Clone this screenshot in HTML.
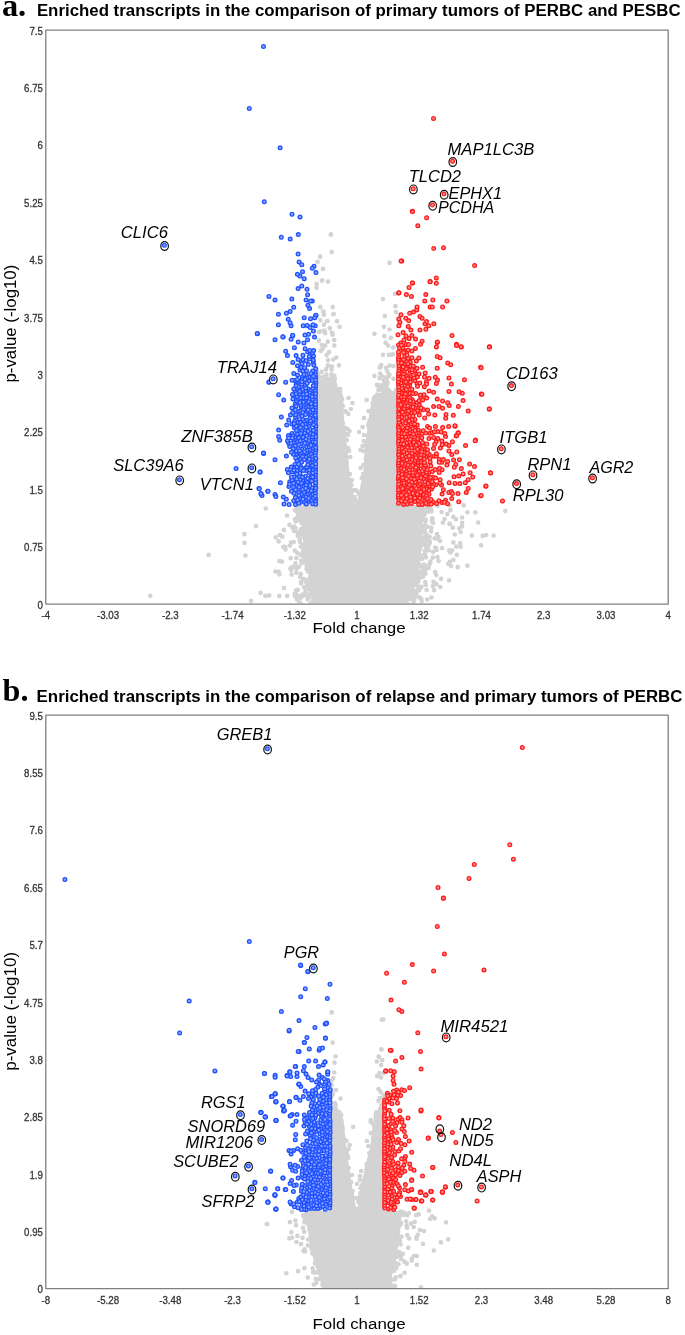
<!DOCTYPE html>
<html><head><meta charset="utf-8"><style>
html,body{margin:0;padding:0;background:#fff;}
svg{display:block;font-family:"Liberation Sans", sans-serif;will-change:transform;}
</style></head><body>
<svg width="685" height="1335" viewBox="0 0 685 1335">
<rect width="685" height="1335" fill="#fff"/>
<defs><clipPath id="clipA"><rect x="46" y="30" width="622" height="573.5"/></clipPath><clipPath id="clipB"><rect x="46" y="715" width="622" height="573.5"/></clipPath></defs>
<g clip-path="url(#clipA)">
<polygon points="313,398 343.3,398 344,420 347.5,450 349.2,470 351.8,490 354.6,500 356.2,505 356.2,505 357.6,500 359.6,490 363.6,470 364.5,450 368.5,420 372,398 400,398 400,505 424,505 422,540 419,570 405,604 405,606 312,606 312,604 308,570 303,540 300,505 313,505" fill="#d3d3d3"/>
<path d="M320.4 331.3h0M332 332.8h0M334.2 340.2h0M318.9 340.6h0M325.1 345.5h0M322.5 349h0M320.7 350.9h0M329.1 352.1h0M326.6 355.1h0M333.3 359.6h0M328 360.2h0M327.9 365.3h0M331 366.9h0M332 366.6h0M331.6 369.6h0M326.1 369.4h0M316.7 370.9h0M321.7 371.8h0M318.2 374h0M331.4 374.3h0M326.4 374.7h0M332.1 375.2h0M332.5 375h0M323.6 376.8h0M316.3 376.6h0M319.7 377.4h0M319.3 377.3h0M333.7 377.6h0M334.7 378.5h0M326 378.9h0M330.2 378.6h0M324.4 379.5h0M334.6 379.3h0M331.8 379.7h0M330 379.6h0M317 380.2h0M334.3 380.8h0M318.3 380.6h0M328.9 381.6h0M319.8 381.1h0M324.4 381.8h0M332.7 381.7h0M318.3 381.9h0M316.6 382h0M321.3 382.2h0M319.9 382.6h0M316.8 382.6h0M322.7 383.9h0M327.5 383.8h0M333.6 385h0M334.7 384.1h0M323.4 384.3h0M318.5 384.6h0M328.8 385.6h0M329.6 385.1h0M330.8 385.6h0M334.4 385.8h0M323.3 385.7h0M335.4 385.9h0M319.6 385h0M331 386.1h0M324.7 386.1h0M331.1 386.8h0M324.6 386.4h0M328.3 386.2h0M321.6 386.3h0M333.8 387.1h0M319.1 387.1h0M317.9 387.9h0M322.3 387.3h0M335.4 387.6h0M333.3 388.8h0M335.6 388.7h0M324.8 388.1h0M328.3 388.8h0M320.5 388.3h0M331.5 389.2h0M334.4 389.8h0M333.5 389.4h0M325.2 389.4h0M316.8 389.8h0M329.1 389.4h0M329.3 389.7h0M325.2 389.8h0M338.3 389.4h0M319.3 389.8h0M340.1 389.1h0M333.3 389.8h0M330.2 390.4h0M334.5 390.2h0M338.6 390.2h0M335 390.1h0M327.7 390h0M325.7 391.2h0M319.1 391h0M328.4 391.1h0M320.4 391.9h0M328 391.2h0M332.6 391.3h0M329 391.3h0M328.8 391.6h0M340 392.2h0M328.5 392.5h0M338.7 392h0M323.8 392.6h0M317.6 392.2h0M327.5 392.9h0M334.8 392.8h0M334.8 392.7h0M337 392.7h0M328.8 393.1h0M339.9 393.6h0M335.9 393.3h0M335.9 393.7h0M332 394h0M326.8 393.4h0M333.2 393.8h0M324.3 393.7h0M321.2 393.6h0M329 394.7h0M318.1 394.6h0M329.9 394.9h0M317 394.5h0M331.7 394.6h0M317.8 394.6h0M321.5 394.2h0M334.8 395.5h0M324.4 395.8h0M325.5 395.8h0M335.5 395.4h0M333.7 395h0M325.7 395.9h0M330.4 395.6h0M332.5 395.7h0M330.5 395.4h0M320.6 395.3h0M323.3 395.4h0M340.8 395.4h0M327.1 395.4h0M330.5 395.9h0M338.1 395.4h0M322.6 395.9h0M328.3 395.7h0M329.6 396.2h0M323.9 396.7h0M335.2 396.1h0M334.2 396.8h0M327.1 396.1h0M333 396.2h0M332 396.4h0M331.9 396.3h0M327.9 396.5h0M331.7 396.2h0M340 396.3h0M324 397.8h0M328.2 397.9h0M332.4 397.6h0M335.1 397.8h0M324.6 397.3h0M326.9 397.5h0M319.5 397.4h0M320.6 398.2h0M327.8 398h0M327.4 398.2h0M322.7 398.8h0M320.6 398.6h0M326.1 398.4h0M339.1 399.9h0M332.7 399h0M332.6 399.6h0M335.3 399.2h0M339.8 399.9h0M318.9 399.3h0M316.8 399.8h0M338.9 400h0M331.3 399.7h0M333 399.6h0M339.8 399.6h0M324.4 399.5h0M316.5 399.7h0M337.3 400.8h0M324.4 400.1h0M319.3 400.2h0M323.6 400.4h0M339.2 400.3h0M338.5 400.7h0M337.4 400.4h0M316.1 400.8h0M322.1 400.1h0M336 400.7h0M321.3 400.3h0M339.5 400.3h0M385.6 342.8h0M393.3 347.6h0M392.9 354.3h0M388.9 354.9h0M389.7 365.5h0M381.2 365.1h0M393.6 366.1h0M379.7 367.5h0M386 367.8h0M387.2 371h0M380.1 373.6h0M389 374.8h0M389.4 374.8h0M388.7 374.2h0M381.4 375.6h0M388.4 376.7h0M385 377.5h0M393.5 378.9h0M379.7 378.2h0M383.9 380.2h0M386.6 380.9h0M387.5 382.7h0M384 384h0M383 384.8h0M376.9 384.9h0M386.9 385.2h0M379.4 385.3h0M385.8 387.4h0M382.9 388.8h0M381.3 388.4h0M378.7 389.4h0M388.6 389.9h0M378.9 389.7h0M385.9 389.1h0M396.4 389.7h0M378.5 389.9h0M382.7 390.9h0M387.7 391.5h0M387.6 391.7h0M390.1 392h0M385.1 392.9h0M395.8 392.4h0M395.7 392.4h0M383.4 392.8h0M385.5 392.4h0M383.7 392.4h0M387.5 393.7h0M392.7 393.2h0M389 394.2h0M377.3 394.7h0M391.6 394.3h0M389 394h0M383.9 394.6h0M396.3 395.2h0M380.4 395.2h0M396.8 395.3h0M388.2 396h0M395.9 395h0M386.4 395.6h0M375.4 396.6h0M376.3 396.2h0M382.1 396.1h0M380 398h0M394.7 397.6h0M376.6 397.3h0M375.1 397.2h0M375.1 397.1h0M392.4 398.7h0M386.7 398.6h0M376.6 398.3h0M387.6 399h0M392.9 398.6h0M386.1 398h0M393.6 400h0M379.7 399.9h0M383.4 399.3h0M385.7 399h0M384.3 399.2h0M390.4 399.5h0M394 399.9h0M381.4 399.3h0M385.8 400.5h0M384 401h0M395.8 400.1h0M377.5 400.4h0M393.2 400.6h0M390.8 400.6h0M348.5 398h0M374.1 398h0M342.2 399h0M373.9 399h0M366.7 400h0M352.5 403h0M372.7 403h0M342.8 406h0M350.9 409h0M345.2 411h0M368.6 411h0M345.9 412h0M348.3 414h0M371.3 415h0M342 418h0M364.1 418h0M341.9 419h0M370.9 419h0M369.7 420h0M370.3 422h0M342.9 423h0M368.9 423h0M368.2 425h0M362.6 427h0M345.5 428h0M369.1 428h0M347.5 429h0M343.8 430h0M349.5 431h0M359.1 432h0M346.5 434h0M347.9 435h0M364 435h0M344.3 436h0M368.1 436h0M344.2 439h0M346.8 440h0M363.8 441h0M365.9 444h0M362.5 446h0M366.7 447h0M348.1 448h0M346.2 450h0M360.5 450h0M349.1 451h0M363.3 451h0M345.5 453h0M350.2 457h0M365.9 459h0M366.3 460h0M346.4 462h0M366 464h0M363.5 465h0M347 468h0M360.6 468h0M349.9 474h0M363.2 474h0M361.8 478h0M351.8 480h0M348.4 481h0M350.4 482h0M349.5 484h0M351.4 485h0M349.7 486h0M352.2 490h0M355.6 490h0M350.8 491h0M356.6 491h0M351.6 492h0M361 492h0M351.3 493h0M358.8 494h0M360.4 496h0M354.6 497h0M360 498h0M352.8 499h0M355 499h0M357.3 502h0M297.8 505.3h0M297.4 505.2h0M437.5 505.7h0M429.9 506h0M301 506.4h0M424.5 506.9h0M296.9 507.5h0M301.4 507.3h0M426.2 507.9h0M425.4 508h0M298.6 508.1h0M298.7 508.4h0M265.8 508.5h0M427.7 508.2h0M421.9 508.9h0M301.1 509.7h0M431 509.3h0M296.1 511h0M299.1 510.1h0M295 510.2h0M427.6 511.3h0M431.4 511.4h0M428.3 511.4h0M300.5 512.5h0M423.7 512.3h0M424.7 512.8h0M441.6 512h0M300.8 513.4h0M298.8 513.9h0M301.1 513.2h0M423.7 514.8h0M447.3 514.1h0M424.5 514.6h0M287 515.5h0M300.1 515.5h0M297.8 516.2h0M422.5 516.8h0M297 518.5h0M298.7 518.9h0M432.1 518.3h0M432.5 518.9h0M300.3 519.5h0M301 519.8h0M294.9 519.1h0M300.2 519.4h0M444.5 519h0M456 519.3h0M422.7 519.3h0M425.7 519.7h0M421.4 519.2h0M425 519.9h0M301.4 520.8h0M297.6 520.2h0M431.7 520.1h0M295.6 521.4h0M425.7 521.5h0M433.2 522.8h0M442.9 522.7h0M432.4 522.2h0M301.6 523.1h0M449.5 523.7h0M289.5 524.8h0M424.7 525.5h0M256 526.2h0M294.4 526.7h0M427.4 526.6h0M292.4 527.5h0M431.3 527.8h0M295.4 528.2h0M301 529.1h0M283.9 529.9h0M422.4 529.2h0M303.1 530.5h0M301.1 530.4h0M294 530.8h0M303.4 530.3h0M422.2 530.4h0M424.8 530.2h0M300 531.2h0M431.1 531.3h0M420.8 531.6h0M297.7 532.5h0M301 532.5h0M424.3 532.3h0M303.7 533.2h0M425.5 533.4h0M299.2 534.4h0M299.6 535h0M304.1 534.2h0M299 534.6h0M437 534.1h0M425.4 534.1h0M303.7 535.5h0M304.3 535.3h0M297.9 535h0M280 535.1h0M297.8 535.7h0M425.6 535.9h0M427.2 535.4h0M482.7 535.9h0M282.3 536.7h0M429.7 536.9h0M304 537.3h0M438.4 537h0M422.4 537.8h0M437.3 538.6h0M434.6 538.3h0M299.7 539.2h0M428 539.3h0M428.5 539.3h0M427 539.9h0M423.4 539.8h0M425.7 540.2h0M420.8 540.4h0M424.8 540.8h0M420.6 540.9h0M421 540.3h0M440.1 540.9h0M278.6 541.4h0M299.9 541.8h0M429.8 541.6h0M426.2 541.5h0M305.1 542.9h0M293.7 542.1h0M420.8 542.8h0M429.8 542.9h0M425.2 542.8h0M453.3 542.4h0M305.4 543.2h0M460.2 543.4h0M302.6 544.8h0M424.8 544.9h0M424.2 544.5h0M290 545.5h0M428.4 545.9h0M421.2 545.5h0M300.8 546.6h0M284.1 546.8h0M303.1 546.9h0M305.5 546.8h0M426.4 546.8h0M419.5 546.3h0M285.3 547.2h0M302.8 547.6h0M426.3 547.6h0M435.8 547.8h0M435.2 547.5h0M304.3 548.8h0M419.9 548.8h0M442 548.1h0M285.5 549.5h0M305 549.4h0M420.2 549.2h0M294.9 550.7h0M428.8 550.3h0M424.9 551h0M452.1 550.5h0M449.2 550.3h0M436.5 550h0M302.9 551.9h0M297.2 552.8h0M433.1 552.1h0M425 553.7h0M305.1 554.1h0M305.5 554.8h0M300.5 554.8h0M305.6 555.8h0M302.3 555.7h0M306.9 555.6h0M421.3 555.5h0M307.1 556h0M421.3 556.2h0M421.3 556.8h0M425.9 557.3h0M437.5 557h0M432.8 557.7h0M418.4 557.1h0M290.7 558.2h0M296.3 558.1h0M422 558.8h0M305 559.7h0M306 559.3h0M305.7 559.1h0M305.1 560.2h0M301.3 560.6h0M438.7 561h0M305.9 561.6h0M279.4 561.1h0M305.9 561h0M430.4 561.7h0M418 561.7h0M301.8 562.6h0M418.5 562.9h0M295.4 563.3h0M307.1 563.5h0M301.6 563.2h0M308.7 563.1h0M448.2 563.7h0M306.5 564.9h0M423.9 564.6h0M429.5 564.3h0M308.7 565.6h0M420.6 565.9h0M424.8 565.7h0M298.7 566.9h0M292.6 566.8h0M451 566.1h0M422.7 566.6h0M294.8 567.3h0M419.1 567.1h0M428.6 567.8h0M426.1 567.4h0M307.5 568.7h0M296.4 568.8h0M290.4 568.5h0M306.6 568.9h0M426.1 568.3h0M425.7 569.2h0M423 570.6h0M417.3 570.3h0M275.5 571.5h0M308 571.5h0M278.6 571.9h0M435.1 572h0M296.3 572.7h0M421.4 572h0M417.1 573h0M421.5 573.7h0M425.4 573.7h0M419.2 574h0M291.6 574.6h0M279.4 574.3h0M300.8 574.1h0M419.2 574.8h0M436.2 575.1h0M300.1 577h0M310.3 576.7h0M416.2 576.8h0M423.3 576.3h0M414.6 576.5h0M422.1 577.1h0M416.4 577.6h0M415.4 578h0M309.6 578.9h0M303.1 579h0M309.8 579h0M303.8 579.1h0M418.7 579.3h0M305.5 580.7h0M305.9 580.3h0M311.2 581.9h0M418.2 581.5h0M414.6 582h0M306.3 582.2h0M300.9 582.1h0M311.4 582.7h0M308.2 582.7h0M412.8 582.4h0M416.6 582.2h0M425.2 582h0M414.8 582.8h0M415.3 582.3h0M415.3 582.4h0M415.1 582.3h0M309 583.4h0M301.2 583.3h0M436.4 584.2h0M415.4 584.9h0M425.7 584.9h0M307.2 585.5h0M308.7 585.3h0M307.3 586.6h0M307.9 586.5h0M310.1 586.6h0M418.4 586.8h0M417.9 586.4h0M411.8 586.2h0M421.3 586.9h0M310.1 587.6h0M304.1 587.3h0M420.9 587.1h0M308.7 588.6h0M297.9 589.8h0M309.9 589.8h0M412.9 589.7h0M419.4 589.8h0M295.9 590.7h0M434.1 590.2h0M417.2 590.9h0M410.7 590.7h0M426.6 590h0M418.1 590.5h0M305.5 591.3h0M414.5 591.4h0M312.2 592.9h0M260.6 592.9h0M305.3 592.6h0M409.1 592.2h0M311.8 593.3h0M294.8 593.8h0M413.2 593.8h0M416.5 593.2h0M407.6 594h0M304.7 594.7h0M309 594.7h0M310 594.7h0M296.1 594.4h0M302.6 594.6h0M412.5 594.7h0M287.2 595.9h0M269.2 595.4h0M305.4 595.2h0M406.7 595.2h0M415 595.2h0M406.8 595.2h0M294.9 596.1h0M302.1 596.2h0M299.6 596.3h0M295.8 596.2h0M299.9 596.2h0M407.4 596.9h0M415.1 596.7h0M410 596.6h0M309 597.6h0M431.5 597.5h0M408.2 597.3h0M410.9 597.4h0M419.3 597.4h0M410.7 597.1h0M407.1 597.7h0M300.3 598.6h0M421.2 598.9h0M409.9 598.9h0M406.7 598.1h0M307.6 599.2h0M297.1 599.4h0M427.2 599.5h0M313.3 600.2h0M414.2 600h0M421.7 601h0M405.6 600.9h0M313.6 601.2h0M406.1 601.5h0M310.7 603h0M300.6 603.5h0M299.2 603.3h0M313.3 603h0M407.5 603.5h0M413.3 603.2h0M331.1 234.6h0M330.7 234.6h0M331.7 252.1h0M320.1 256.7h0M317.5 261.8h0M323.2 269h0M321.9 280.6h0M328.2 281.5h0M316.6 283.9h0M316.6 287.8h0M320.1 306.9h0M323.6 311.5h0M323.8 314.8h0M332.8 307.1h0M333.7 314.1h0M320.1 320h0M327.5 321.1h0M337 321.3h0M339.6 326.8h0M330 328.3h0M324.5 330.5h0M325.1 333.2h0M332.6 334.7h0M321.9 345h0M327.8 341.7h0M334.3 345.6h0M336.3 357.5h0M338.9 365.3h0M334.3 375.9h0M331.7 252.1h0M320.3 256.5h0M322.9 268.9h0M316.6 283.8h0M322.2 280.4h0M328 281.6h0M320.3 307.2h0M323.2 311.5h0M323.9 314.5h0M332.7 307.2h0M333.4 314.2h0M320.3 320.3h0M326.9 321h0M337.1 321h0M323.9 324.7h0M329.8 328h0M332.7 334.6h0M318.8 332h0M389.5 262.9h0M395 294h0M383 299h0M395.4 306.2h0M384.9 316.1h0M384 326.8h0M389.5 329.5h0M374.4 333.8h0M384.3 336.2h0M390.8 337.8h0M388.2 345.6h0M383 354.8h0M390.8 354.8h0M380.3 367.3h0M374.4 375.9h0M395.1 293.9h0M395.5 306.3h0M396 312.1h0M150.2 595.8h0M208.6 554.9h0M244.5 534.2h0M244.5 542.9h0M245.4 555.5h0M251.1 600.9h0M265.3 595.9h0M279.3 595.9h0M275.8 537.3h0M283.2 547h0M281.9 561.7h0M291.1 570.1h0M284 588h0M291.1 542.5h0M463.6 505.3h0M450.4 510.2h0M453.4 516.9h0M467.4 512.3h0M475.3 512.3h0M462.1 517.5h0M478.2 522.5h0M462.1 522.8h0M449.9 523.9h0M459.2 528.3h0M462.1 526.3h0M460.7 532.1h0M452.8 527.7h0M471.8 535.6h0M486.1 535h0M493.6 535.6h0M454.8 534.5h0M481.1 545.3h0M456.3 546.7h0M460.7 546.7h0M450.4 552.6h0M456.9 554.9h0M453.4 559.9h0M449.9 561.9h0M457.7 567.2h0M467.4 565.7h0M441.1 578.8h0M449 580.3h0M433.5 581.8h0M440.2 587h0M432.9 586.1h0M505.3 511.1h0M449.9 505.3h0M463.8 505.3h0" stroke="#d3d3d3" stroke-width="4.70" stroke-linecap="round" fill="none"/>
<g fill="#8aa4ff" stroke="#1f50ff" stroke-width="1.3"><circle cx="311.7" cy="500.2" r="1.85"/><circle cx="315.2" cy="372" r="1.85"/><circle cx="303" cy="429" r="1.85"/><circle cx="295.2" cy="481.8" r="1.85"/><circle cx="299.7" cy="413.6" r="1.85"/><circle cx="315.3" cy="477.3" r="1.85"/><circle cx="302.3" cy="377.1" r="1.85"/><circle cx="307" cy="405.3" r="1.85"/><circle cx="308.3" cy="364.6" r="1.85"/><circle cx="291.3" cy="467.1" r="1.85"/><circle cx="296.5" cy="401.4" r="1.85"/><circle cx="303.6" cy="391.9" r="1.85"/><circle cx="315.7" cy="377.4" r="1.85"/><circle cx="301.1" cy="361.4" r="1.85"/><circle cx="268.9" cy="382.3" r="1.85"/><circle cx="315.6" cy="469.2" r="1.85"/><circle cx="312.6" cy="462.8" r="1.85"/><circle cx="313.2" cy="401.6" r="1.85"/><circle cx="296.2" cy="501.9" r="1.85"/><circle cx="303" cy="440.9" r="1.85"/><circle cx="286.4" cy="456.1" r="1.85"/><circle cx="315.2" cy="490.8" r="1.85"/><circle cx="301.3" cy="407.1" r="1.85"/><circle cx="300.9" cy="404.7" r="1.85"/><circle cx="303.8" cy="480.7" r="1.85"/><circle cx="300.9" cy="491.1" r="1.85"/><circle cx="257.4" cy="333.8" r="1.85"/><circle cx="312.5" cy="494.4" r="1.85"/><circle cx="294.3" cy="440" r="1.85"/><circle cx="304" cy="407" r="1.85"/><circle cx="283.3" cy="497" r="1.85"/><circle cx="309.4" cy="413.9" r="1.85"/><circle cx="310" cy="496.2" r="1.85"/><circle cx="315.9" cy="315.4" r="1.85"/><circle cx="308.9" cy="376.7" r="1.85"/><circle cx="290.1" cy="311.5" r="1.85"/><circle cx="301.5" cy="501.3" r="1.85"/><circle cx="306.8" cy="402.4" r="1.85"/><circle cx="315.7" cy="368.7" r="1.85"/><circle cx="296.4" cy="382.9" r="1.85"/><circle cx="315.4" cy="493.5" r="1.85"/><circle cx="307.7" cy="502.2" r="1.85"/><circle cx="297.7" cy="422.5" r="1.85"/><circle cx="294" cy="451.4" r="1.85"/><circle cx="307.5" cy="424.7" r="1.85"/><circle cx="301.8" cy="286" r="1.85"/><circle cx="303.9" cy="343" r="1.85"/><circle cx="290.4" cy="414.9" r="1.85"/><circle cx="300.2" cy="458.7" r="1.85"/><circle cx="315.5" cy="412.5" r="1.85"/><circle cx="305.3" cy="384.9" r="1.85"/><circle cx="315.8" cy="382.8" r="1.85"/><circle cx="291.1" cy="325.7" r="1.85"/><circle cx="315.5" cy="388.2" r="1.85"/><circle cx="306.1" cy="360.8" r="1.85"/><circle cx="278.6" cy="394.7" r="1.85"/><circle cx="305.3" cy="400.3" r="1.85"/><circle cx="308.3" cy="407.4" r="1.85"/><circle cx="312.1" cy="488" r="1.85"/><circle cx="312.8" cy="388.2" r="1.85"/><circle cx="295.4" cy="471.9" r="1.85"/><circle cx="300" cy="479.8" r="1.85"/><circle cx="310.1" cy="468" r="1.85"/><circle cx="308.2" cy="487.7" r="1.85"/><circle cx="303.2" cy="437.2" r="1.85"/><circle cx="303.5" cy="397.9" r="1.85"/><circle cx="300.5" cy="422.5" r="1.85"/><circle cx="293.7" cy="487.5" r="1.85"/><circle cx="311.3" cy="474.6" r="1.85"/><circle cx="310.5" cy="441.6" r="1.85"/><circle cx="309.9" cy="462.7" r="1.85"/><circle cx="292.6" cy="335.6" r="1.85"/><circle cx="296.5" cy="389.5" r="1.85"/><circle cx="294.4" cy="427.8" r="1.85"/><circle cx="305.4" cy="454.9" r="1.85"/><circle cx="315.5" cy="474.6" r="1.85"/><circle cx="288.9" cy="486.4" r="1.85"/><circle cx="311.8" cy="451.6" r="1.85"/><circle cx="307.6" cy="351.8" r="1.85"/><circle cx="289.1" cy="504.4" r="1.85"/><circle cx="313.4" cy="331" r="1.85"/><circle cx="306.5" cy="370.8" r="1.85"/><circle cx="295.5" cy="417" r="1.85"/><circle cx="303.7" cy="496.8" r="1.85"/><circle cx="309" cy="426.7" r="1.85"/><circle cx="300.6" cy="400.4" r="1.85"/><circle cx="299.5" cy="476.2" r="1.85"/><circle cx="294.9" cy="437.1" r="1.85"/><circle cx="300" cy="370.1" r="1.85"/><circle cx="292" cy="214.2" r="1.85"/><circle cx="304" cy="492.3" r="1.85"/><circle cx="315.7" cy="498.9" r="1.85"/><circle cx="303.4" cy="402" r="1.85"/><circle cx="306.6" cy="377.7" r="1.85"/><circle cx="313" cy="467.8" r="1.85"/><circle cx="292.3" cy="471.7" r="1.85"/><circle cx="292.2" cy="445.1" r="1.85"/><circle cx="288.4" cy="435.6" r="1.85"/><circle cx="293.7" cy="307.2" r="1.85"/><circle cx="308.6" cy="334.2" r="1.85"/><circle cx="315.4" cy="439.5" r="1.85"/><circle cx="310" cy="477.9" r="1.85"/><circle cx="306.9" cy="412.2" r="1.85"/><circle cx="315.6" cy="480" r="1.85"/><circle cx="315.7" cy="417.9" r="1.85"/><circle cx="294.4" cy="347.8" r="1.85"/><circle cx="286.4" cy="313.3" r="1.85"/><circle cx="312.3" cy="412.6" r="1.85"/><circle cx="313.5" cy="355.9" r="1.85"/><circle cx="301.6" cy="430.7" r="1.85"/><circle cx="308.3" cy="396.7" r="1.85"/><circle cx="306.7" cy="453" r="1.85"/><circle cx="292.1" cy="433.4" r="1.85"/><circle cx="301.8" cy="449.3" r="1.85"/><circle cx="313.3" cy="470.1" r="1.85"/><circle cx="298.2" cy="448.4" r="1.85"/><circle cx="297.5" cy="365.7" r="1.85"/><circle cx="297.6" cy="374.9" r="1.85"/><circle cx="307.8" cy="461.2" r="1.85"/><circle cx="307.8" cy="494.3" r="1.85"/><circle cx="309.8" cy="398.8" r="1.85"/><circle cx="283.1" cy="337" r="1.85"/><circle cx="295.1" cy="391.4" r="1.85"/><circle cx="294.1" cy="477" r="1.85"/><circle cx="300.6" cy="466.2" r="1.85"/><circle cx="315.4" cy="399" r="1.85"/><circle cx="310.7" cy="353.8" r="1.85"/><circle cx="298.1" cy="398.4" r="1.85"/><circle cx="315.4" cy="501.6" r="1.85"/><circle cx="303.6" cy="445.2" r="1.85"/><circle cx="315.8" cy="450.3" r="1.85"/><circle cx="306.4" cy="420.2" r="1.85"/><circle cx="301.2" cy="367.5" r="1.85"/><circle cx="306.3" cy="500.1" r="1.85"/><circle cx="309.1" cy="472.6" r="1.85"/><circle cx="307.6" cy="339.8" r="1.85"/><circle cx="278.4" cy="314.2" r="1.85"/><circle cx="275" cy="459.7" r="1.85"/><circle cx="299.4" cy="484.3" r="1.85"/><circle cx="303.5" cy="484.1" r="1.85"/><circle cx="280.1" cy="147.7" r="1.85"/><circle cx="315.5" cy="434.1" r="1.85"/><circle cx="310.2" cy="411.5" r="1.85"/><circle cx="286.3" cy="499.3" r="1.85"/><circle cx="308.3" cy="389" r="1.85"/><circle cx="313.5" cy="498" r="1.85"/><circle cx="302.1" cy="363.6" r="1.85"/><circle cx="257.2" cy="333.4" r="1.85"/><circle cx="290.2" cy="239.1" r="1.85"/><circle cx="312.4" cy="380.4" r="1.85"/><circle cx="297.7" cy="441.7" r="1.85"/><circle cx="295.6" cy="489.7" r="1.85"/><circle cx="259" cy="488.5" r="1.85"/><circle cx="315.4" cy="409.8" r="1.85"/><circle cx="298.1" cy="254" r="1.85"/><circle cx="306.3" cy="397.8" r="1.85"/><circle cx="315.4" cy="466.5" r="1.85"/><circle cx="288.7" cy="443.5" r="1.85"/><circle cx="299.9" cy="402.5" r="1.85"/><circle cx="315.5" cy="401.7" r="1.85"/><circle cx="295.2" cy="404.1" r="1.85"/><circle cx="305.6" cy="476.3" r="1.85"/><circle cx="294.9" cy="464.4" r="1.85"/><circle cx="312.6" cy="371" r="1.85"/><circle cx="291.1" cy="339.2" r="1.85"/><circle cx="301.2" cy="468.5" r="1.85"/><circle cx="294.8" cy="380.4" r="1.85"/><circle cx="294.9" cy="395.9" r="1.85"/><circle cx="297.5" cy="434.1" r="1.85"/><circle cx="315.9" cy="315.2" r="1.85"/><circle cx="304.3" cy="421.6" r="1.85"/><circle cx="302.8" cy="371.1" r="1.85"/><circle cx="314" cy="266.3" r="1.85"/><circle cx="298.3" cy="426.1" r="1.85"/><circle cx="297.2" cy="485.5" r="1.85"/><circle cx="299.1" cy="487.1" r="1.85"/><circle cx="315.2" cy="496.2" r="1.85"/><circle cx="294.1" cy="493.2" r="1.85"/><circle cx="306" cy="391.3" r="1.85"/><circle cx="309.7" cy="482.7" r="1.85"/><circle cx="275" cy="299.9" r="1.85"/><circle cx="295.7" cy="414.8" r="1.85"/><circle cx="315.6" cy="385.5" r="1.85"/><circle cx="314.7" cy="317.8" r="1.85"/><circle cx="300.5" cy="397.8" r="1.85"/><circle cx="279.7" cy="440.3" r="1.85"/><circle cx="283.7" cy="400.1" r="1.85"/><circle cx="263.6" cy="453.4" r="1.85"/><circle cx="315.5" cy="436.8" r="1.85"/><circle cx="287.5" cy="440.8" r="1.85"/><circle cx="310" cy="423.1" r="1.85"/><circle cx="297.1" cy="470.4" r="1.85"/><circle cx="306.3" cy="470.6" r="1.85"/><circle cx="294.6" cy="467.8" r="1.85"/><circle cx="297.1" cy="396.4" r="1.85"/><circle cx="293.8" cy="373.4" r="1.85"/><circle cx="306.2" cy="480" r="1.85"/><circle cx="288.8" cy="437.9" r="1.85"/><circle cx="301.4" cy="494.4" r="1.85"/><circle cx="312.3" cy="439.3" r="1.85"/><circle cx="293.7" cy="500.8" r="1.85"/><circle cx="280.4" cy="482.7" r="1.85"/><circle cx="313.2" cy="441.8" r="1.85"/><circle cx="292" cy="407.9" r="1.85"/><circle cx="299.9" cy="473.3" r="1.85"/><circle cx="285.7" cy="351.3" r="1.85"/><circle cx="281.3" cy="237.3" r="1.85"/><circle cx="296.2" cy="393.8" r="1.85"/><circle cx="299.7" cy="393.7" r="1.85"/><circle cx="294" cy="470.1" r="1.85"/><circle cx="305" cy="424.3" r="1.85"/><circle cx="296.1" cy="426" r="1.85"/><circle cx="301.7" cy="387.1" r="1.85"/><circle cx="302.5" cy="271.7" r="1.85"/><circle cx="309.2" cy="455.3" r="1.85"/><circle cx="293.3" cy="448.7" r="1.85"/><circle cx="305" cy="334.9" r="1.85"/><circle cx="315.4" cy="471.9" r="1.85"/><circle cx="302.3" cy="379.4" r="1.85"/><circle cx="294.6" cy="421.3" r="1.85"/><circle cx="288.2" cy="319.3" r="1.85"/><circle cx="315.5" cy="407.1" r="1.85"/><circle cx="297.1" cy="460.5" r="1.85"/><circle cx="315.3" cy="420.6" r="1.85"/><circle cx="303.9" cy="486.7" r="1.85"/><circle cx="307.5" cy="450.3" r="1.85"/><circle cx="302.6" cy="419.3" r="1.85"/><circle cx="310" cy="449.3" r="1.85"/><circle cx="306.6" cy="446.7" r="1.85"/><circle cx="299.9" cy="276.1" r="1.85"/><circle cx="315.4" cy="453" r="1.85"/><circle cx="309.6" cy="492.3" r="1.85"/><circle cx="310.5" cy="318.8" r="1.85"/><circle cx="315.4" cy="374.7" r="1.85"/><circle cx="299.2" cy="381.8" r="1.85"/><circle cx="312.3" cy="301" r="1.85"/><circle cx="306.2" cy="374.8" r="1.85"/><circle cx="304.6" cy="367.8" r="1.85"/><circle cx="292.8" cy="335.4" r="1.85"/><circle cx="302" cy="416.3" r="1.85"/><circle cx="304.5" cy="502.3" r="1.85"/><circle cx="315.3" cy="415.2" r="1.85"/><circle cx="291.8" cy="424.1" r="1.85"/><circle cx="263.5" cy="46.5" r="1.85"/><circle cx="288.7" cy="420.1" r="1.85"/><circle cx="307" cy="289.3" r="1.85"/><circle cx="312.3" cy="459.1" r="1.85"/><circle cx="303.2" cy="325.7" r="1.85"/><circle cx="312.9" cy="409.7" r="1.85"/><circle cx="297" cy="466.8" r="1.85"/><circle cx="311.2" cy="415.9" r="1.85"/><circle cx="305.4" cy="430.5" r="1.85"/><circle cx="300" cy="216.9" r="1.85"/><circle cx="307.2" cy="442.7" r="1.85"/><circle cx="300.5" cy="454.9" r="1.85"/><circle cx="267.8" cy="491.2" r="1.85"/><circle cx="301.7" cy="462" r="1.85"/><circle cx="309.2" cy="480.5" r="1.85"/><circle cx="289.8" cy="446.4" r="1.85"/><circle cx="291.4" cy="491.2" r="1.85"/><circle cx="297.8" cy="452.8" r="1.85"/><circle cx="298.8" cy="444.6" r="1.85"/><circle cx="315.3" cy="461.1" r="1.85"/><circle cx="306.3" cy="497" r="1.85"/><circle cx="261.1" cy="493.9" r="1.85"/><circle cx="315.4" cy="485.4" r="1.85"/><circle cx="313.3" cy="362.3" r="1.85"/><circle cx="298.1" cy="359.5" r="1.85"/><circle cx="302.7" cy="389.3" r="1.85"/><circle cx="298.2" cy="384.6" r="1.85"/><circle cx="301.4" cy="483.3" r="1.85"/><circle cx="310.4" cy="435.3" r="1.85"/><circle cx="312.5" cy="436.8" r="1.85"/><circle cx="292.9" cy="435.8" r="1.85"/><circle cx="315.4" cy="423.3" r="1.85"/><circle cx="298.1" cy="288.6" r="1.85"/><circle cx="299.1" cy="261.9" r="1.85"/><circle cx="312.6" cy="477" r="1.85"/><circle cx="289.8" cy="481.7" r="1.85"/><circle cx="296.1" cy="355.6" r="1.85"/><circle cx="292.8" cy="362.4" r="1.85"/><circle cx="295.5" cy="497.4" r="1.85"/><circle cx="312.2" cy="394.4" r="1.85"/><circle cx="264.3" cy="201.7" r="1.85"/><circle cx="268" cy="491.3" r="1.85"/><circle cx="313.8" cy="365.1" r="1.85"/><circle cx="312.5" cy="352.7" r="1.85"/><circle cx="307.2" cy="325.4" r="1.85"/><circle cx="269" cy="382" r="1.85"/><circle cx="298.5" cy="386.8" r="1.85"/><circle cx="285.7" cy="382.3" r="1.85"/><circle cx="312.9" cy="434.2" r="1.85"/><circle cx="295.8" cy="454.4" r="1.85"/><circle cx="292.3" cy="438" r="1.85"/><circle cx="310.1" cy="327.6" r="1.85"/><circle cx="284" cy="504" r="1.85"/><circle cx="304.2" cy="317.8" r="1.85"/><circle cx="282.8" cy="336.8" r="1.85"/><circle cx="303.3" cy="453.6" r="1.85"/><circle cx="259.3" cy="488.7" r="1.85"/><circle cx="309.3" cy="470.1" r="1.85"/><circle cx="302.7" cy="489.4" r="1.85"/><circle cx="309.7" cy="359.1" r="1.85"/><circle cx="305.8" cy="457.1" r="1.85"/><circle cx="308.6" cy="381" r="1.85"/><circle cx="292.9" cy="398.9" r="1.85"/><circle cx="298.7" cy="492.6" r="1.85"/><circle cx="303.7" cy="394.4" r="1.85"/><circle cx="299.6" cy="391.4" r="1.85"/><circle cx="315.9" cy="272.6" r="1.85"/><circle cx="297.9" cy="456.9" r="1.85"/><circle cx="292.1" cy="380.2" r="1.85"/><circle cx="315.4" cy="444.9" r="1.85"/><circle cx="311.5" cy="406.5" r="1.85"/><circle cx="312.6" cy="399.3" r="1.85"/><circle cx="297.9" cy="481.9" r="1.85"/><circle cx="236.1" cy="468.5" r="1.85"/><circle cx="298.8" cy="437.9" r="1.85"/><circle cx="296.4" cy="450.9" r="1.85"/><circle cx="298.5" cy="464" r="1.85"/><circle cx="298.3" cy="234.6" r="1.85"/><circle cx="312.4" cy="465.6" r="1.85"/><circle cx="315.3" cy="390.9" r="1.85"/><circle cx="313.6" cy="350.6" r="1.85"/><circle cx="286.7" cy="425.1" r="1.85"/><circle cx="300.9" cy="452.6" r="1.85"/><circle cx="308.9" cy="401.7" r="1.85"/><circle cx="275" cy="494.5" r="1.85"/><circle cx="298.4" cy="411.2" r="1.85"/><circle cx="310.1" cy="418.1" r="1.85"/><circle cx="302.4" cy="477.1" r="1.85"/><circle cx="303" cy="355.2" r="1.85"/><circle cx="281.3" cy="417" r="1.85"/><circle cx="304.5" cy="381.6" r="1.85"/><circle cx="315.5" cy="442.2" r="1.85"/><circle cx="300" cy="498.4" r="1.85"/><circle cx="298.2" cy="341.9" r="1.85"/><circle cx="315.4" cy="404.4" r="1.85"/><circle cx="298.7" cy="429.3" r="1.85"/><circle cx="301.8" cy="264.8" r="1.85"/><circle cx="275" cy="339.7" r="1.85"/><circle cx="315.6" cy="431.4" r="1.85"/><circle cx="293.8" cy="389" r="1.85"/><circle cx="315.2" cy="325.7" r="1.85"/><circle cx="315.4" cy="428.7" r="1.85"/><circle cx="306.1" cy="427.2" r="1.85"/><circle cx="304.8" cy="433.3" r="1.85"/><circle cx="310.4" cy="390.7" r="1.85"/><circle cx="315.4" cy="396.3" r="1.85"/><circle cx="249.3" cy="108.5" r="1.85"/><circle cx="311.7" cy="480.9" r="1.85"/><circle cx="305.3" cy="468.1" r="1.85"/><circle cx="312.3" cy="268.2" r="1.85"/><circle cx="288.4" cy="472.7" r="1.85"/><circle cx="297.7" cy="500.2" r="1.85"/><circle cx="309.2" cy="356.4" r="1.85"/><circle cx="302.9" cy="359.6" r="1.85"/><circle cx="292.2" cy="480.1" r="1.85"/><circle cx="306.2" cy="504.1" r="1.85"/><circle cx="299.7" cy="450.7" r="1.85"/><circle cx="295.3" cy="445.6" r="1.85"/><circle cx="295.7" cy="457.9" r="1.85"/><circle cx="314.5" cy="337.1" r="1.85"/><circle cx="313.4" cy="446.2" r="1.85"/><circle cx="307.9" cy="305.3" r="1.85"/><circle cx="303.5" cy="470.6" r="1.85"/><circle cx="278.6" cy="436.5" r="1.85"/><circle cx="296.8" cy="474.1" r="1.85"/><circle cx="296.7" cy="479" r="1.85"/><circle cx="307.7" cy="478.4" r="1.85"/><circle cx="310" cy="429.5" r="1.85"/><circle cx="315.8" cy="426" r="1.85"/><circle cx="310.1" cy="433" r="1.85"/><circle cx="292.8" cy="412.5" r="1.85"/><circle cx="313" cy="419.4" r="1.85"/><circle cx="307" cy="482.7" r="1.85"/><circle cx="313.5" cy="424.7" r="1.85"/><circle cx="310.5" cy="300.9" r="1.85"/><circle cx="308.2" cy="431.2" r="1.85"/><circle cx="311" cy="373.5" r="1.85"/><circle cx="298.9" cy="495.4" r="1.85"/><circle cx="268.9" cy="296.4" r="1.85"/><circle cx="306.1" cy="299.9" r="1.85"/><circle cx="303.9" cy="374.4" r="1.85"/><circle cx="313.5" cy="376.2" r="1.85"/><circle cx="315.7" cy="488.1" r="1.85"/><circle cx="300.6" cy="427.5" r="1.85"/><circle cx="278.6" cy="430.1" r="1.85"/><circle cx="290.1" cy="322.8" r="1.85"/><circle cx="302.6" cy="424.5" r="1.85"/><circle cx="304.5" cy="451.7" r="1.85"/><circle cx="293.4" cy="442.6" r="1.85"/><circle cx="308" cy="490.3" r="1.85"/><circle cx="291.8" cy="299.1" r="1.85"/><circle cx="308.6" cy="440.4" r="1.85"/><circle cx="289.6" cy="484.1" r="1.85"/><circle cx="309.2" cy="446.8" r="1.85"/><circle cx="275.9" cy="496.6" r="1.85"/><circle cx="297.4" cy="274.3" r="1.85"/><circle cx="307.1" cy="383.3" r="1.85"/><circle cx="262" cy="495.6" r="1.85"/><circle cx="310.6" cy="421" r="1.85"/><circle cx="302.9" cy="499.3" r="1.85"/><circle cx="306" cy="439.2" r="1.85"/><circle cx="287.4" cy="355.6" r="1.85"/><circle cx="309.8" cy="350.5" r="1.85"/><circle cx="310.9" cy="445.2" r="1.85"/><circle cx="296.4" cy="430.4" r="1.85"/><circle cx="305.8" cy="408.4" r="1.85"/><circle cx="311.2" cy="454.1" r="1.85"/><circle cx="307" cy="466.7" r="1.85"/><circle cx="295.5" cy="504.6" r="1.85"/><circle cx="315.5" cy="380.1" r="1.85"/><circle cx="300.9" cy="411.2" r="1.85"/><circle cx="296" cy="385.6" r="1.85"/><circle cx="295.4" cy="410" r="1.85"/><circle cx="309.9" cy="392.9" r="1.85"/><circle cx="303.6" cy="409.7" r="1.85"/><circle cx="315.7" cy="447.6" r="1.85"/><circle cx="304.2" cy="278.8" r="1.85"/><circle cx="300.3" cy="440.8" r="1.85"/><circle cx="291.1" cy="443.2" r="1.85"/><circle cx="308" cy="464.6" r="1.85"/><circle cx="309.2" cy="459.3" r="1.85"/><circle cx="296.2" cy="406.1" r="1.85"/><circle cx="307.6" cy="294.7" r="1.85"/><circle cx="305.1" cy="348.7" r="1.85"/><circle cx="315.6" cy="482.7" r="1.85"/><circle cx="294.2" cy="423.6" r="1.85"/><circle cx="287.3" cy="469.4" r="1.85"/><circle cx="312.6" cy="503.7" r="1.85"/><circle cx="301.8" cy="381.7" r="1.85"/><circle cx="300.8" cy="433.4" r="1.85"/><circle cx="263.5" cy="453.1" r="1.85"/><circle cx="315.6" cy="463.8" r="1.85"/><circle cx="302.7" cy="456.8" r="1.85"/><circle cx="292.5" cy="394.5" r="1.85"/><circle cx="304.7" cy="443.3" r="1.85"/><circle cx="308.3" cy="409.9" r="1.85"/><circle cx="306.8" cy="435.6" r="1.85"/><circle cx="260.9" cy="493.6" r="1.85"/><circle cx="299.4" cy="418.8" r="1.85"/><circle cx="305.7" cy="388" r="1.85"/><circle cx="312.8" cy="472.9" r="1.85"/><circle cx="312.6" cy="456.5" r="1.85"/><circle cx="302.8" cy="412.5" r="1.85"/><circle cx="315.6" cy="393.6" r="1.85"/><circle cx="313.3" cy="360.1" r="1.85"/><circle cx="291.4" cy="477" r="1.85"/><circle cx="311.3" cy="403.8" r="1.85"/><circle cx="315.7" cy="504.3" r="1.85"/><circle cx="305.5" cy="414.5" r="1.85"/><circle cx="260.1" cy="472" r="1.85"/><circle cx="310.2" cy="395.4" r="1.85"/><circle cx="313.4" cy="430.4" r="1.85"/><circle cx="305.1" cy="379.4" r="1.85"/><circle cx="278.4" cy="324.7" r="1.85"/><circle cx="293.6" cy="483.3" r="1.85"/><circle cx="297.4" cy="379.4" r="1.85"/><circle cx="260.1" cy="471.9" r="1.85"/><circle cx="312.1" cy="396.7" r="1.85"/><circle cx="293.4" cy="454.3" r="1.85"/><circle cx="313.3" cy="385.6" r="1.85"/><circle cx="311.3" cy="490.8" r="1.85"/><circle cx="309.8" cy="485.5" r="1.85"/><circle cx="304.3" cy="459.6" r="1.85"/><circle cx="291.4" cy="452.2" r="1.85"/><circle cx="315.2" cy="455.7" r="1.85"/><circle cx="306.8" cy="394" r="1.85"/><circle cx="313" cy="324.7" r="1.85"/><circle cx="306.1" cy="485.1" r="1.85"/><circle cx="298.9" cy="503.2" r="1.85"/><circle cx="309.6" cy="308.6" r="1.85"/><circle cx="308.7" cy="498.3" r="1.85"/><circle cx="315.8" cy="458.4" r="1.85"/><circle cx="305.8" cy="488.3" r="1.85"/></g>
<g fill="#ff8e8e" stroke="#ff1a1a" stroke-width="1.3"><circle cx="436.2" cy="441.6" r="1.85"/><circle cx="425.8" cy="329.3" r="1.85"/><circle cx="461.3" cy="468.4" r="1.85"/><circle cx="406.8" cy="498.7" r="1.85"/><circle cx="436.3" cy="283.2" r="1.85"/><circle cx="456.7" cy="452" r="1.85"/><circle cx="425.7" cy="467.5" r="1.85"/><circle cx="403.8" cy="429.9" r="1.85"/><circle cx="430.1" cy="461.9" r="1.85"/><circle cx="406.5" cy="407.9" r="1.85"/><circle cx="405" cy="410.5" r="1.85"/><circle cx="435.7" cy="484.8" r="1.85"/><circle cx="411.9" cy="351" r="1.85"/><circle cx="411.3" cy="426.5" r="1.85"/><circle cx="398.7" cy="397.9" r="1.85"/><circle cx="398.4" cy="478.9" r="1.85"/><circle cx="409.6" cy="385" r="1.85"/><circle cx="408.2" cy="434.5" r="1.85"/><circle cx="409" cy="287.5" r="1.85"/><circle cx="401" cy="314.7" r="1.85"/><circle cx="439" cy="406.4" r="1.85"/><circle cx="430.1" cy="307" r="1.85"/><circle cx="419.9" cy="495.8" r="1.85"/><circle cx="442.1" cy="494.1" r="1.85"/><circle cx="451.7" cy="498.6" r="1.85"/><circle cx="412.5" cy="498.5" r="1.85"/><circle cx="433.6" cy="406.6" r="1.85"/><circle cx="398.6" cy="487" r="1.85"/><circle cx="414.2" cy="447.6" r="1.85"/><circle cx="412.9" cy="484.8" r="1.85"/><circle cx="430.8" cy="465.9" r="1.85"/><circle cx="398.8" cy="354.7" r="1.85"/><circle cx="433.5" cy="118.5" r="1.85"/><circle cx="411.1" cy="423.7" r="1.85"/><circle cx="441.5" cy="485" r="1.85"/><circle cx="415.7" cy="393.5" r="1.85"/><circle cx="401.3" cy="396.9" r="1.85"/><circle cx="407" cy="485" r="1.85"/><circle cx="401.7" cy="261" r="1.85"/><circle cx="407.7" cy="391.9" r="1.85"/><circle cx="398.6" cy="403.3" r="1.85"/><circle cx="404.2" cy="448" r="1.85"/><circle cx="424.7" cy="418" r="1.85"/><circle cx="448.9" cy="445.4" r="1.85"/><circle cx="400.9" cy="479.7" r="1.85"/><circle cx="429" cy="494.3" r="1.85"/><circle cx="443.5" cy="247.7" r="1.85"/><circle cx="437.8" cy="431.6" r="1.85"/><circle cx="424.3" cy="501.5" r="1.85"/><circle cx="417.9" cy="407.9" r="1.85"/><circle cx="424.1" cy="497.3" r="1.85"/><circle cx="437.2" cy="368.2" r="1.85"/><circle cx="441.9" cy="502.4" r="1.85"/><circle cx="407.3" cy="504" r="1.85"/><circle cx="439.9" cy="483" r="1.85"/><circle cx="417.8" cy="496.6" r="1.85"/><circle cx="416.5" cy="452.6" r="1.85"/><circle cx="404" cy="340" r="1.85"/><circle cx="398.8" cy="470.8" r="1.85"/><circle cx="428.2" cy="504.3" r="1.85"/><circle cx="401.1" cy="360" r="1.85"/><circle cx="420.9" cy="397.3" r="1.85"/><circle cx="400.7" cy="497.6" r="1.85"/><circle cx="405" cy="385.4" r="1.85"/><circle cx="445.5" cy="500.2" r="1.85"/><circle cx="417.4" cy="441.1" r="1.85"/><circle cx="415.2" cy="493.1" r="1.85"/><circle cx="410.2" cy="362.1" r="1.85"/><circle cx="403.1" cy="332.6" r="1.85"/><circle cx="420.5" cy="410.2" r="1.85"/><circle cx="402.9" cy="370.3" r="1.85"/><circle cx="420.2" cy="475.6" r="1.85"/><circle cx="442.6" cy="408.3" r="1.85"/><circle cx="448.8" cy="492.4" r="1.85"/><circle cx="428.9" cy="472.5" r="1.85"/><circle cx="406.7" cy="421" r="1.85"/><circle cx="470.1" cy="472.7" r="1.85"/><circle cx="448.9" cy="451" r="1.85"/><circle cx="437.2" cy="356.5" r="1.85"/><circle cx="398.5" cy="406" r="1.85"/><circle cx="398.6" cy="411.4" r="1.85"/><circle cx="414.5" cy="439.9" r="1.85"/><circle cx="412.6" cy="421.7" r="1.85"/><circle cx="458.2" cy="432.7" r="1.85"/><circle cx="456.2" cy="436" r="1.85"/><circle cx="410.6" cy="445.1" r="1.85"/><circle cx="405.8" cy="318.2" r="1.85"/><circle cx="399" cy="368.2" r="1.85"/><circle cx="462.3" cy="393.3" r="1.85"/><circle cx="400.9" cy="343.1" r="1.85"/><circle cx="425.7" cy="457.3" r="1.85"/><circle cx="401.1" cy="486.4" r="1.85"/><circle cx="436.4" cy="383.5" r="1.85"/><circle cx="403.6" cy="382.4" r="1.85"/><circle cx="408.7" cy="450" r="1.85"/><circle cx="426.6" cy="217.7" r="1.85"/><circle cx="407.1" cy="445.4" r="1.85"/><circle cx="431.4" cy="484" r="1.85"/><circle cx="406.4" cy="294.6" r="1.85"/><circle cx="428.9" cy="438.6" r="1.85"/><circle cx="426.4" cy="493.4" r="1.85"/><circle cx="411.5" cy="503.5" r="1.85"/><circle cx="465.3" cy="482.7" r="1.85"/><circle cx="440.1" cy="357.8" r="1.85"/><circle cx="398.5" cy="352" r="1.85"/><circle cx="461.3" cy="347" r="1.85"/><circle cx="410.3" cy="432.9" r="1.85"/><circle cx="419.3" cy="404.6" r="1.85"/><circle cx="418.5" cy="456.4" r="1.85"/><circle cx="437.2" cy="342.6" r="1.85"/><circle cx="423.3" cy="487.2" r="1.85"/><circle cx="481.3" cy="394" r="1.85"/><circle cx="429.1" cy="390.9" r="1.85"/><circle cx="403.8" cy="466" r="1.85"/><circle cx="407.9" cy="383.3" r="1.85"/><circle cx="423.4" cy="466.1" r="1.85"/><circle cx="399" cy="473.5" r="1.85"/><circle cx="415" cy="419.5" r="1.85"/><circle cx="407.9" cy="358.5" r="1.85"/><circle cx="418.3" cy="462.2" r="1.85"/><circle cx="407.7" cy="413.5" r="1.85"/><circle cx="401.4" cy="392.7" r="1.85"/><circle cx="427.6" cy="410" r="1.85"/><circle cx="407.1" cy="397.6" r="1.85"/><circle cx="474.5" cy="466.6" r="1.85"/><circle cx="447.6" cy="503.7" r="1.85"/><circle cx="414.4" cy="495.6" r="1.85"/><circle cx="413.4" cy="312.1" r="1.85"/><circle cx="409.8" cy="370" r="1.85"/><circle cx="429.9" cy="433.3" r="1.85"/><circle cx="415" cy="465" r="1.85"/><circle cx="415.4" cy="469.8" r="1.85"/><circle cx="408.1" cy="366.4" r="1.85"/><circle cx="442.1" cy="469.8" r="1.85"/><circle cx="455" cy="483.4" r="1.85"/><circle cx="417.2" cy="402.4" r="1.85"/><circle cx="406.7" cy="376.1" r="1.85"/><circle cx="407.9" cy="425.6" r="1.85"/><circle cx="409.8" cy="403.9" r="1.85"/><circle cx="474.6" cy="265.5" r="1.85"/><circle cx="434.8" cy="414.9" r="1.85"/><circle cx="417.4" cy="482.3" r="1.85"/><circle cx="449.2" cy="405.4" r="1.85"/><circle cx="428.6" cy="414" r="1.85"/><circle cx="398.5" cy="357.4" r="1.85"/><circle cx="414.9" cy="450.8" r="1.85"/><circle cx="416.3" cy="361.1" r="1.85"/><circle cx="423.4" cy="492.3" r="1.85"/><circle cx="406.6" cy="352" r="1.85"/><circle cx="408.5" cy="437.1" r="1.85"/><circle cx="401.4" cy="402.7" r="1.85"/><circle cx="409.9" cy="378.8" r="1.85"/><circle cx="407.7" cy="378.6" r="1.85"/><circle cx="424.7" cy="452.8" r="1.85"/><circle cx="414.1" cy="444.6" r="1.85"/><circle cx="403.3" cy="480" r="1.85"/><circle cx="417.6" cy="469" r="1.85"/><circle cx="398.9" cy="468.1" r="1.85"/><circle cx="404.1" cy="474.4" r="1.85"/><circle cx="404.8" cy="356.3" r="1.85"/><circle cx="401.1" cy="261.1" r="1.85"/><circle cx="419.2" cy="473.6" r="1.85"/><circle cx="402.9" cy="460.9" r="1.85"/><circle cx="458" cy="493.6" r="1.85"/><circle cx="425.2" cy="448.9" r="1.85"/><circle cx="399" cy="392.5" r="1.85"/><circle cx="406.4" cy="471.1" r="1.85"/><circle cx="420.5" cy="344.3" r="1.85"/><circle cx="452.4" cy="441.8" r="1.85"/><circle cx="399.9" cy="322.3" r="1.85"/><circle cx="398.8" cy="389.8" r="1.85"/><circle cx="432.8" cy="300" r="1.85"/><circle cx="413.2" cy="475.1" r="1.85"/><circle cx="398.5" cy="465.4" r="1.85"/><circle cx="427.5" cy="449.8" r="1.85"/><circle cx="404.2" cy="485.8" r="1.85"/><circle cx="403.5" cy="389.9" r="1.85"/><circle cx="405.3" cy="461.5" r="1.85"/><circle cx="434.1" cy="456.3" r="1.85"/><circle cx="405.5" cy="436.8" r="1.85"/><circle cx="417.4" cy="436" r="1.85"/><circle cx="398.9" cy="446.5" r="1.85"/><circle cx="412.3" cy="211.2" r="1.85"/><circle cx="419.9" cy="484.2" r="1.85"/><circle cx="407.3" cy="427.9" r="1.85"/><circle cx="398.5" cy="376.3" r="1.85"/><circle cx="446" cy="414.5" r="1.85"/><circle cx="441.8" cy="462.2" r="1.85"/><circle cx="447.7" cy="362.9" r="1.85"/><circle cx="409.7" cy="472.4" r="1.85"/><circle cx="433.6" cy="483.7" r="1.85"/><circle cx="440.4" cy="448.1" r="1.85"/><circle cx="465.5" cy="445.4" r="1.85"/><circle cx="400.5" cy="377.4" r="1.85"/><circle cx="404.9" cy="488.5" r="1.85"/><circle cx="419.9" cy="330.1" r="1.85"/><circle cx="401.2" cy="451.9" r="1.85"/><circle cx="415.6" cy="473.4" r="1.85"/><circle cx="413.4" cy="463.2" r="1.85"/><circle cx="441.9" cy="441.1" r="1.85"/><circle cx="398.6" cy="424.9" r="1.85"/><circle cx="459.4" cy="459.7" r="1.85"/><circle cx="418.3" cy="430.1" r="1.85"/><circle cx="442.6" cy="307" r="1.85"/><circle cx="398.6" cy="462.7" r="1.85"/><circle cx="398" cy="334.7" r="1.85"/><circle cx="429.1" cy="485.9" r="1.85"/><circle cx="475.5" cy="440" r="1.85"/><circle cx="406.1" cy="344.4" r="1.85"/><circle cx="415.6" cy="374" r="1.85"/><circle cx="442.6" cy="401" r="1.85"/><circle cx="475.2" cy="440.8" r="1.85"/><circle cx="411.9" cy="335.5" r="1.85"/><circle cx="417.3" cy="425.1" r="1.85"/><circle cx="419.4" cy="445.8" r="1.85"/><circle cx="456.6" cy="345" r="1.85"/><circle cx="426.3" cy="485.6" r="1.85"/><circle cx="424.3" cy="386.7" r="1.85"/><circle cx="420.6" cy="488.1" r="1.85"/><circle cx="426.4" cy="381.7" r="1.85"/><circle cx="443.4" cy="489.7" r="1.85"/><circle cx="455" cy="426.2" r="1.85"/><circle cx="432.4" cy="471.6" r="1.85"/><circle cx="403.6" cy="504.4" r="1.85"/><circle cx="442.2" cy="444.8" r="1.85"/><circle cx="427.9" cy="481.2" r="1.85"/><circle cx="420.5" cy="457.7" r="1.85"/><circle cx="408.6" cy="395.3" r="1.85"/><circle cx="422.1" cy="499.6" r="1.85"/><circle cx="412.1" cy="399.5" r="1.85"/><circle cx="413.3" cy="490.7" r="1.85"/><circle cx="413.6" cy="409.7" r="1.85"/><circle cx="398.8" cy="319.1" r="1.85"/><circle cx="459.1" cy="391.8" r="1.85"/><circle cx="432.2" cy="432.5" r="1.85"/><circle cx="419.5" cy="451" r="1.85"/><circle cx="430.2" cy="479.9" r="1.85"/><circle cx="451.4" cy="491.4" r="1.85"/><circle cx="403.7" cy="401.6" r="1.85"/><circle cx="403.8" cy="399.1" r="1.85"/><circle cx="455.8" cy="464.4" r="1.85"/><circle cx="404.6" cy="440.7" r="1.85"/><circle cx="408.7" cy="320.6" r="1.85"/><circle cx="417.6" cy="438.8" r="1.85"/><circle cx="459.8" cy="483.6" r="1.85"/><circle cx="402.6" cy="421.1" r="1.85"/><circle cx="417.5" cy="477.7" r="1.85"/><circle cx="433.4" cy="502.3" r="1.85"/><circle cx="413.4" cy="404.8" r="1.85"/><circle cx="407.3" cy="482.7" r="1.85"/><circle cx="418.4" cy="432.9" r="1.85"/><circle cx="410.1" cy="393.3" r="1.85"/><circle cx="446.2" cy="444.1" r="1.85"/><circle cx="437.5" cy="380.1" r="1.85"/><circle cx="419.1" cy="400.7" r="1.85"/><circle cx="403.1" cy="364.4" r="1.85"/><circle cx="411.3" cy="489.1" r="1.85"/><circle cx="454" cy="476.8" r="1.85"/><circle cx="463.1" cy="473.9" r="1.85"/><circle cx="425.4" cy="465.1" r="1.85"/><circle cx="410.4" cy="366" r="1.85"/><circle cx="430" cy="458.4" r="1.85"/><circle cx="402.1" cy="436.4" r="1.85"/><circle cx="423.1" cy="473.6" r="1.85"/><circle cx="409.6" cy="441.7" r="1.85"/><circle cx="466.3" cy="492.4" r="1.85"/><circle cx="453.3" cy="415.2" r="1.85"/><circle cx="398.7" cy="492.4" r="1.85"/><circle cx="440.1" cy="479.8" r="1.85"/><circle cx="490.5" cy="472.7" r="1.85"/><circle cx="398.5" cy="344.9" r="1.85"/><circle cx="403.1" cy="404.1" r="1.85"/><circle cx="415.3" cy="501.6" r="1.85"/><circle cx="398.5" cy="360.1" r="1.85"/><circle cx="403" cy="491.1" r="1.85"/><circle cx="419.4" cy="448" r="1.85"/><circle cx="432.2" cy="481.7" r="1.85"/><circle cx="398.4" cy="497.8" r="1.85"/><circle cx="435.3" cy="377.2" r="1.85"/><circle cx="403.4" cy="350.2" r="1.85"/><circle cx="402.2" cy="406.6" r="1.85"/><circle cx="425.2" cy="372.9" r="1.85"/><circle cx="400.9" cy="429.1" r="1.85"/><circle cx="417.7" cy="465.9" r="1.85"/><circle cx="426" cy="479.2" r="1.85"/><circle cx="422" cy="433.4" r="1.85"/><circle cx="418.8" cy="358" r="1.85"/><circle cx="406.2" cy="457.2" r="1.85"/><circle cx="406.8" cy="417.2" r="1.85"/><circle cx="404.8" cy="477.2" r="1.85"/><circle cx="415.5" cy="339.1" r="1.85"/><circle cx="417.2" cy="459.9" r="1.85"/><circle cx="398.8" cy="400.6" r="1.85"/><circle cx="430.1" cy="281.4" r="1.85"/><circle cx="407.3" cy="489.4" r="1.85"/><circle cx="403.7" cy="352.4" r="1.85"/><circle cx="417.6" cy="449.3" r="1.85"/><circle cx="403.1" cy="379.8" r="1.85"/><circle cx="410" cy="493.7" r="1.85"/><circle cx="416.7" cy="309.9" r="1.85"/><circle cx="405.3" cy="492.4" r="1.85"/><circle cx="410.4" cy="381.9" r="1.85"/><circle cx="427.7" cy="477.1" r="1.85"/><circle cx="413.9" cy="442.3" r="1.85"/><circle cx="432.9" cy="477.3" r="1.85"/><circle cx="410.9" cy="330.1" r="1.85"/><circle cx="401.5" cy="468.5" r="1.85"/><circle cx="448.9" cy="391.4" r="1.85"/><circle cx="399" cy="365.5" r="1.85"/><circle cx="428.1" cy="483.5" r="1.85"/><circle cx="403.1" cy="498.8" r="1.85"/><circle cx="411.6" cy="447.8" r="1.85"/><circle cx="412" cy="419.5" r="1.85"/><circle cx="429" cy="378.3" r="1.85"/><circle cx="407.7" cy="386.7" r="1.85"/><circle cx="409.7" cy="313.3" r="1.85"/><circle cx="406.3" cy="431.3" r="1.85"/><circle cx="401.8" cy="448.4" r="1.85"/><circle cx="438.9" cy="500.7" r="1.85"/><circle cx="419.3" cy="415.1" r="1.85"/><circle cx="411.9" cy="357.7" r="1.85"/><circle cx="489.3" cy="408.9" r="1.85"/><circle cx="468.2" cy="479.7" r="1.85"/><circle cx="398.8" cy="438.4" r="1.85"/><circle cx="404.5" cy="396.8" r="1.85"/><circle cx="458.4" cy="406.4" r="1.85"/><circle cx="416.8" cy="484.4" r="1.85"/><circle cx="425.5" cy="476.1" r="1.85"/><circle cx="415.2" cy="427.9" r="1.85"/><circle cx="410.8" cy="478.6" r="1.85"/><circle cx="415.4" cy="408.1" r="1.85"/><circle cx="468.2" cy="488.5" r="1.85"/><circle cx="398.7" cy="293.1" r="1.85"/><circle cx="421.6" cy="462.5" r="1.85"/><circle cx="408.5" cy="344.5" r="1.85"/><circle cx="451.4" cy="384.1" r="1.85"/><circle cx="424.3" cy="459.1" r="1.85"/><circle cx="406.4" cy="474.5" r="1.85"/><circle cx="426.5" cy="384" r="1.85"/><circle cx="423.6" cy="479.2" r="1.85"/><circle cx="402.9" cy="347.8" r="1.85"/><circle cx="485.8" cy="486.2" r="1.85"/><circle cx="425.8" cy="294.6" r="1.85"/><circle cx="406.2" cy="368.6" r="1.85"/><circle cx="398.6" cy="384.4" r="1.85"/><circle cx="402.2" cy="471.7" r="1.85"/><circle cx="401.1" cy="483.2" r="1.85"/><circle cx="398.5" cy="476.2" r="1.85"/><circle cx="408.9" cy="481" r="1.85"/><circle cx="502.5" cy="500.9" r="1.85"/><circle cx="414.8" cy="498" r="1.85"/><circle cx="398.6" cy="443.8" r="1.85"/><circle cx="480.6" cy="367.3" r="1.85"/><circle cx="431.2" cy="504.1" r="1.85"/><circle cx="419.4" cy="471.3" r="1.85"/><circle cx="427.5" cy="426.4" r="1.85"/><circle cx="417.1" cy="384" r="1.85"/><circle cx="406.9" cy="459.9" r="1.85"/><circle cx="416.1" cy="432.7" r="1.85"/><circle cx="411.9" cy="457.4" r="1.85"/><circle cx="429.5" cy="501.1" r="1.85"/><circle cx="435.1" cy="469.6" r="1.85"/><circle cx="405.5" cy="501.5" r="1.85"/><circle cx="415.2" cy="482" r="1.85"/><circle cx="480.6" cy="495.8" r="1.85"/><circle cx="415" cy="485.9" r="1.85"/><circle cx="398.8" cy="325.7" r="1.85"/><circle cx="424.7" cy="300.9" r="1.85"/><circle cx="423.6" cy="455.2" r="1.85"/><circle cx="426.2" cy="489" r="1.85"/><circle cx="417.5" cy="410.7" r="1.85"/><circle cx="401.1" cy="372.7" r="1.85"/><circle cx="407.6" cy="467.7" r="1.85"/><circle cx="402.5" cy="477.8" r="1.85"/><circle cx="419.4" cy="481" r="1.85"/><circle cx="431" cy="499.4" r="1.85"/><circle cx="421.1" cy="465.6" r="1.85"/><circle cx="422.7" cy="399.9" r="1.85"/><circle cx="441.2" cy="432" r="1.85"/><circle cx="435.6" cy="478.1" r="1.85"/><circle cx="423.8" cy="494.6" r="1.85"/><circle cx="401.9" cy="388.3" r="1.85"/><circle cx="406.5" cy="442.9" r="1.85"/><circle cx="398.9" cy="449.2" r="1.85"/><circle cx="398.9" cy="481.6" r="1.85"/><circle cx="431.6" cy="489" r="1.85"/><circle cx="399" cy="500.5" r="1.85"/><circle cx="404.4" cy="372" r="1.85"/><circle cx="425.7" cy="433.1" r="1.85"/><circle cx="424.5" cy="377" r="1.85"/><circle cx="404.2" cy="414.3" r="1.85"/><circle cx="400.9" cy="380" r="1.85"/><circle cx="415.5" cy="455.6" r="1.85"/><circle cx="403.2" cy="366.9" r="1.85"/><circle cx="414.8" cy="460.6" r="1.85"/><circle cx="414.4" cy="437.1" r="1.85"/><circle cx="410.7" cy="429.8" r="1.85"/><circle cx="436.3" cy="277.9" r="1.85"/><circle cx="481.9" cy="394.3" r="1.85"/><circle cx="408.9" cy="491.6" r="1.85"/><circle cx="413.1" cy="401.7" r="1.85"/><circle cx="410.8" cy="461.7" r="1.85"/><circle cx="410.8" cy="407.2" r="1.85"/><circle cx="418.3" cy="486.5" r="1.85"/><circle cx="399" cy="457.3" r="1.85"/><circle cx="434.6" cy="444.2" r="1.85"/><circle cx="439.3" cy="459.4" r="1.85"/><circle cx="401.6" cy="417.1" r="1.85"/><circle cx="406.4" cy="402.6" r="1.85"/><circle cx="414.8" cy="380.6" r="1.85"/><circle cx="400.8" cy="425.3" r="1.85"/><circle cx="432.3" cy="307" r="1.85"/><circle cx="426.7" cy="398.1" r="1.85"/><circle cx="437.2" cy="399.1" r="1.85"/><circle cx="412.5" cy="283" r="1.85"/><circle cx="419" cy="373.9" r="1.85"/><circle cx="429.4" cy="454.4" r="1.85"/><circle cx="425.9" cy="503.4" r="1.85"/><circle cx="422.1" cy="449.4" r="1.85"/><circle cx="413" cy="407.2" r="1.85"/><circle cx="424.6" cy="484.1" r="1.85"/><circle cx="428.7" cy="325.7" r="1.85"/><circle cx="418.7" cy="504.4" r="1.85"/><circle cx="419" cy="443.5" r="1.85"/><circle cx="398.9" cy="422.2" r="1.85"/><circle cx="439.2" cy="472.5" r="1.85"/><circle cx="426.7" cy="472.1" r="1.85"/><circle cx="429.6" cy="428.1" r="1.85"/><circle cx="432.6" cy="486.7" r="1.85"/><circle cx="401.9" cy="474.4" r="1.85"/><circle cx="405.8" cy="382" r="1.85"/><circle cx="401.3" cy="443.4" r="1.85"/><circle cx="451.8" cy="454.6" r="1.85"/><circle cx="409.4" cy="469.6" r="1.85"/><circle cx="401" cy="383.1" r="1.85"/><circle cx="408" cy="400.3" r="1.85"/><circle cx="412.8" cy="472.6" r="1.85"/><circle cx="458.7" cy="501.8" r="1.85"/><circle cx="489.3" cy="409" r="1.85"/><circle cx="408.4" cy="476.1" r="1.85"/><circle cx="447.7" cy="402.8" r="1.85"/><circle cx="423.9" cy="489.4" r="1.85"/><circle cx="425" cy="323.8" r="1.85"/><circle cx="490.5" cy="472.9" r="1.85"/><circle cx="403.5" cy="374.1" r="1.85"/><circle cx="408.2" cy="487.1" r="1.85"/><circle cx="458.7" cy="476.1" r="1.85"/><circle cx="445.5" cy="436.6" r="1.85"/><circle cx="417" cy="307" r="1.85"/><circle cx="399" cy="292.8" r="1.85"/><circle cx="430.1" cy="281.8" r="1.85"/><circle cx="403.1" cy="458.4" r="1.85"/><circle cx="414.4" cy="479.2" r="1.85"/><circle cx="398.6" cy="416.8" r="1.85"/><circle cx="429" cy="490.6" r="1.85"/><circle cx="409" cy="338.5" r="1.85"/><circle cx="442.6" cy="427.6" r="1.85"/><circle cx="472.8" cy="477.1" r="1.85"/><circle cx="409.6" cy="374.3" r="1.85"/><circle cx="407.4" cy="447.6" r="1.85"/><circle cx="448.9" cy="378" r="1.85"/><circle cx="403.7" cy="444.2" r="1.85"/><circle cx="409.6" cy="397.6" r="1.85"/><circle cx="406.9" cy="453" r="1.85"/><circle cx="443.4" cy="459.6" r="1.85"/><circle cx="448.6" cy="426.4" r="1.85"/><circle cx="411.6" cy="437" r="1.85"/><circle cx="401.2" cy="410.4" r="1.85"/><circle cx="412.2" cy="459.6" r="1.85"/><circle cx="433.8" cy="323.8" r="1.85"/><circle cx="418.6" cy="489.1" r="1.85"/><circle cx="426.4" cy="496.1" r="1.85"/><circle cx="404.1" cy="469.5" r="1.85"/><circle cx="461" cy="346.8" r="1.85"/><circle cx="398.6" cy="435.7" r="1.85"/><circle cx="414.9" cy="370.2" r="1.85"/><circle cx="398.4" cy="427.6" r="1.85"/><circle cx="436.6" cy="503.6" r="1.85"/><circle cx="410.2" cy="400.9" r="1.85"/><circle cx="411.6" cy="413.3" r="1.85"/><circle cx="424" cy="394.8" r="1.85"/><circle cx="452.4" cy="493.4" r="1.85"/><circle cx="468.2" cy="411.1" r="1.85"/><circle cx="405.6" cy="449.9" r="1.85"/><circle cx="427.3" cy="469.6" r="1.85"/><circle cx="414.6" cy="423.9" r="1.85"/><circle cx="401.7" cy="433.4" r="1.85"/><circle cx="402.6" cy="427.4" r="1.85"/><circle cx="405.4" cy="464.2" r="1.85"/><circle cx="403.2" cy="493.4" r="1.85"/><circle cx="422.1" cy="341.3" r="1.85"/><circle cx="412.9" cy="428.7" r="1.85"/><circle cx="481.2" cy="495.5" r="1.85"/><circle cx="416.2" cy="445.3" r="1.85"/><circle cx="439.5" cy="468.2" r="1.85"/><circle cx="427.4" cy="453.2" r="1.85"/><circle cx="398.6" cy="395.2" r="1.85"/><circle cx="420.7" cy="492" r="1.85"/><circle cx="427.5" cy="498.5" r="1.85"/><circle cx="414" cy="377.7" r="1.85"/><circle cx="408.2" cy="326.4" r="1.85"/><circle cx="399" cy="408.7" r="1.85"/><circle cx="398.6" cy="433" r="1.85"/><circle cx="404.5" cy="433.8" r="1.85"/><circle cx="456.4" cy="344.2" r="1.85"/><circle cx="409.8" cy="416" r="1.85"/><circle cx="404" cy="408.5" r="1.85"/><circle cx="421" cy="477.8" r="1.85"/><circle cx="410.6" cy="500.4" r="1.85"/><circle cx="437.4" cy="342" r="1.85"/><circle cx="410.6" cy="497" r="1.85"/><circle cx="412.8" cy="393.6" r="1.85"/><circle cx="410.6" cy="410.1" r="1.85"/><circle cx="411.9" cy="389.3" r="1.85"/><circle cx="408.2" cy="465.2" r="1.85"/><circle cx="404" cy="483" r="1.85"/><circle cx="445.7" cy="418.2" r="1.85"/><circle cx="408.1" cy="350.1" r="1.85"/><circle cx="430.4" cy="477.5" r="1.85"/><circle cx="415.9" cy="467.5" r="1.85"/><circle cx="423.2" cy="430.7" r="1.85"/><circle cx="416" cy="457.8" r="1.85"/><circle cx="398.6" cy="484.3" r="1.85"/><circle cx="426.8" cy="444" r="1.85"/><circle cx="437.9" cy="438.4" r="1.85"/><circle cx="416.3" cy="488.4" r="1.85"/><circle cx="410.8" cy="466.9" r="1.85"/><circle cx="406.5" cy="478.8" r="1.85"/><circle cx="420.3" cy="395" r="1.85"/><circle cx="433.6" cy="437.4" r="1.85"/><circle cx="398.8" cy="430.3" r="1.85"/><circle cx="412.1" cy="453.4" r="1.85"/><circle cx="417.5" cy="386.2" r="1.85"/><circle cx="398.9" cy="451.9" r="1.85"/><circle cx="398.9" cy="414.1" r="1.85"/><circle cx="419.8" cy="382.9" r="1.85"/><circle cx="436.4" cy="347" r="1.85"/><circle cx="447.7" cy="461.5" r="1.85"/><circle cx="406.4" cy="495" r="1.85"/><circle cx="405.3" cy="406" r="1.85"/><circle cx="435.4" cy="426.4" r="1.85"/><circle cx="415.4" cy="348.5" r="1.85"/><circle cx="409.2" cy="455.9" r="1.85"/><circle cx="418.3" cy="500.8" r="1.85"/><circle cx="423.5" cy="409.5" r="1.85"/><circle cx="419.9" cy="316.5" r="1.85"/><circle cx="489.6" cy="346.8" r="1.85"/><circle cx="419.8" cy="498.1" r="1.85"/><circle cx="412.8" cy="431.7" r="1.85"/><circle cx="453.6" cy="460" r="1.85"/><circle cx="446.9" cy="300.9" r="1.85"/><circle cx="398.5" cy="503.2" r="1.85"/><circle cx="463" cy="400.6" r="1.85"/><circle cx="469.6" cy="464" r="1.85"/><circle cx="402.1" cy="463.4" r="1.85"/><circle cx="398.4" cy="381.7" r="1.85"/><circle cx="398.5" cy="495.1" r="1.85"/><circle cx="406" cy="336" r="1.85"/><circle cx="421.8" cy="437.7" r="1.85"/><circle cx="401.5" cy="500.8" r="1.85"/><circle cx="413.3" cy="434.2" r="1.85"/><circle cx="402.3" cy="440.3" r="1.85"/><circle cx="398.6" cy="441.1" r="1.85"/><circle cx="411.3" cy="375.8" r="1.85"/><circle cx="444.8" cy="433.4" r="1.85"/><circle cx="458.2" cy="433" r="1.85"/><circle cx="398.6" cy="454.6" r="1.85"/><circle cx="399.4" cy="347.8" r="1.85"/><circle cx="413.5" cy="374.7" r="1.85"/><circle cx="421.2" cy="454.6" r="1.85"/><circle cx="422.6" cy="367.3" r="1.85"/><circle cx="417.8" cy="225.7" r="1.85"/><circle cx="422.1" cy="318.2" r="1.85"/><circle cx="398.6" cy="379" r="1.85"/><circle cx="449.2" cy="482.7" r="1.85"/><circle cx="402.3" cy="455.9" r="1.85"/><circle cx="481.2" cy="367.7" r="1.85"/><circle cx="411.8" cy="482.3" r="1.85"/><circle cx="411.5" cy="296.5" r="1.85"/><circle cx="407" cy="355" r="1.85"/><circle cx="417.3" cy="494.3" r="1.85"/><circle cx="421" cy="407.9" r="1.85"/><circle cx="456.5" cy="435.6" r="1.85"/><circle cx="426.5" cy="321.6" r="1.85"/><circle cx="444.4" cy="502.2" r="1.85"/><circle cx="424.4" cy="462.5" r="1.85"/><circle cx="425" cy="481.8" r="1.85"/><circle cx="405.5" cy="393.9" r="1.85"/><circle cx="398.8" cy="387.1" r="1.85"/><circle cx="412.5" cy="465.4" r="1.85"/><circle cx="423.4" cy="446.2" r="1.85"/><circle cx="454.3" cy="467.3" r="1.85"/><circle cx="414.8" cy="412.5" r="1.85"/><circle cx="486" cy="486" r="1.85"/><circle cx="405.5" cy="422.9" r="1.85"/><circle cx="450.7" cy="364.8" r="1.85"/><circle cx="405.4" cy="363.7" r="1.85"/><circle cx="417.4" cy="377.1" r="1.85"/><circle cx="410.2" cy="439.2" r="1.85"/><circle cx="423.6" cy="468.4" r="1.85"/><circle cx="402.5" cy="488.5" r="1.85"/><circle cx="402.4" cy="412.3" r="1.85"/><circle cx="407.8" cy="405.8" r="1.85"/><circle cx="422.3" cy="470.8" r="1.85"/><circle cx="452" cy="335.5" r="1.85"/><circle cx="417" cy="368.3" r="1.85"/><circle cx="422.5" cy="442.4" r="1.85"/><circle cx="464.5" cy="379.7" r="1.85"/><circle cx="412.3" cy="282.9" r="1.85"/><circle cx="398.7" cy="460" r="1.85"/><circle cx="417.3" cy="475.2" r="1.85"/><circle cx="400.8" cy="404.8" r="1.85"/><circle cx="456.5" cy="345.4" r="1.85"/><circle cx="436.4" cy="456.1" r="1.85"/><circle cx="433.5" cy="448.4" r="1.85"/><circle cx="398.5" cy="489.7" r="1.85"/><circle cx="406.5" cy="361.7" r="1.85"/><circle cx="439.2" cy="462.2" r="1.85"/><circle cx="401.4" cy="345.3" r="1.85"/><circle cx="398.9" cy="370.9" r="1.85"/><circle cx="422.1" cy="504.4" r="1.85"/><circle cx="433.6" cy="392.2" r="1.85"/><circle cx="398.9" cy="419.5" r="1.85"/><circle cx="434.5" cy="431.7" r="1.85"/><circle cx="455" cy="425.8" r="1.85"/><circle cx="398.7" cy="362.8" r="1.85"/><circle cx="408" cy="363.8" r="1.85"/><circle cx="412.9" cy="416" r="1.85"/><circle cx="409.1" cy="421" r="1.85"/><circle cx="403.7" cy="451.7" r="1.85"/><circle cx="401.5" cy="362.9" r="1.85"/><circle cx="412.1" cy="369.8" r="1.85"/><circle cx="408.5" cy="411" r="1.85"/><circle cx="406.3" cy="389.5" r="1.85"/><circle cx="403.6" cy="359.6" r="1.85"/><circle cx="403.3" cy="377.2" r="1.85"/><circle cx="413.3" cy="366" r="1.85"/><circle cx="413" cy="493.2" r="1.85"/><circle cx="398.6" cy="373.6" r="1.85"/><circle cx="401.5" cy="495.3" r="1.85"/><circle cx="433.7" cy="248.5" r="1.85"/><circle cx="421.8" cy="451.8" r="1.85"/><circle cx="436.4" cy="453.8" r="1.85"/><circle cx="489.3" cy="347" r="1.85"/><circle cx="415" cy="430.4" r="1.85"/><circle cx="446.9" cy="465.1" r="1.85"/><circle cx="409.4" cy="484.9" r="1.85"/><circle cx="412.5" cy="211.6" r="1.85"/></g>
</g>
<ellipse cx="164.6" cy="246.0" rx="3.8" ry="4.4" fill="#fff" stroke="#111" stroke-width="1.2"/><circle cx="164.4" cy="245.3" r="1.85" fill="#8aa4ff" stroke="#1f50ff" stroke-width="1.3"/><ellipse cx="273.3" cy="379.4" rx="3.8" ry="4.4" fill="#fff" stroke="#111" stroke-width="1.2"/><circle cx="273.1" cy="378.7" r="1.85" fill="#8aa4ff" stroke="#1f50ff" stroke-width="1.3"/><ellipse cx="251.9" cy="447.5" rx="3.8" ry="4.4" fill="#fff" stroke="#111" stroke-width="1.2"/><circle cx="251.7" cy="446.8" r="1.85" fill="#8aa4ff" stroke="#1f50ff" stroke-width="1.3"/><ellipse cx="251.9" cy="468.4" rx="3.8" ry="4.4" fill="#fff" stroke="#111" stroke-width="1.2"/><circle cx="251.7" cy="467.7" r="1.85" fill="#8aa4ff" stroke="#1f50ff" stroke-width="1.3"/><ellipse cx="179.7" cy="480.4" rx="3.8" ry="4.4" fill="#fff" stroke="#111" stroke-width="1.2"/><circle cx="179.5" cy="479.7" r="1.85" fill="#8aa4ff" stroke="#1f50ff" stroke-width="1.3"/>
<ellipse cx="452.8" cy="162.0" rx="3.8" ry="4.4" fill="#fff" stroke="#111" stroke-width="1.2"/><circle cx="452.6" cy="161.3" r="1.85" fill="#ff8e8e" stroke="#ff1a1a" stroke-width="1.3"/><ellipse cx="413.4" cy="189.4" rx="3.8" ry="4.4" fill="#fff" stroke="#111" stroke-width="1.2"/><circle cx="413.2" cy="188.7" r="1.85" fill="#ff8e8e" stroke="#ff1a1a" stroke-width="1.3"/><ellipse cx="444.2" cy="194.7" rx="3.8" ry="4.4" fill="#fff" stroke="#111" stroke-width="1.2"/><circle cx="444.0" cy="194.0" r="1.85" fill="#ff8e8e" stroke="#ff1a1a" stroke-width="1.3"/><ellipse cx="432.7" cy="205.7" rx="3.8" ry="4.4" fill="#fff" stroke="#111" stroke-width="1.2"/><circle cx="432.5" cy="205.0" r="1.85" fill="#ff8e8e" stroke="#ff1a1a" stroke-width="1.3"/><ellipse cx="511.6" cy="386.3" rx="3.8" ry="4.4" fill="#fff" stroke="#111" stroke-width="1.2"/><circle cx="511.4" cy="385.6" r="1.85" fill="#ff8e8e" stroke="#ff1a1a" stroke-width="1.3"/><ellipse cx="501.4" cy="449.4" rx="3.8" ry="4.4" fill="#fff" stroke="#111" stroke-width="1.2"/><circle cx="501.2" cy="448.7" r="1.85" fill="#ff8e8e" stroke="#ff1a1a" stroke-width="1.3"/><ellipse cx="533.0" cy="475.4" rx="3.8" ry="4.4" fill="#fff" stroke="#111" stroke-width="1.2"/><circle cx="532.8" cy="474.7" r="1.85" fill="#ff8e8e" stroke="#ff1a1a" stroke-width="1.3"/><ellipse cx="592.6" cy="478.5" rx="3.8" ry="4.4" fill="#fff" stroke="#111" stroke-width="1.2"/><circle cx="592.4" cy="477.8" r="1.85" fill="#ff8e8e" stroke="#ff1a1a" stroke-width="1.3"/><ellipse cx="516.7" cy="484.3" rx="3.8" ry="4.4" fill="#fff" stroke="#111" stroke-width="1.2"/><circle cx="516.5" cy="483.6" r="1.85" fill="#ff8e8e" stroke="#ff1a1a" stroke-width="1.3"/>
<text x="120.8" y="237.8" font-size="16.0" font-style="italic" textLength="47.3" lengthAdjust="spacingAndGlyphs" fill="#000">CLIC6</text>
<text x="216.7" y="373.4" font-size="16.0" font-style="italic" textLength="60.4" lengthAdjust="spacingAndGlyphs" fill="#000">TRAJ14</text>
<text x="181.2" y="441.7" font-size="16.0" font-style="italic" textLength="71.6" lengthAdjust="spacingAndGlyphs" fill="#000">ZNF385B</text>
<text x="113.2" y="470.6" font-size="16.0" font-style="italic" textLength="70.5" lengthAdjust="spacingAndGlyphs" fill="#000">SLC39A6</text>
<text x="199.8" y="489.9" font-size="16.0" font-style="italic" textLength="54.0" lengthAdjust="spacingAndGlyphs" fill="#000">VTCN1</text>
<text x="447.5" y="154.8" font-size="16.0" font-style="italic" textLength="86.9" lengthAdjust="spacingAndGlyphs" fill="#000">MAP1LC3B</text>
<text x="408.7" y="181.6" font-size="16.0" font-style="italic" textLength="52.3" lengthAdjust="spacingAndGlyphs" fill="#000">TLCD2</text>
<text x="448.5" y="199.4" font-size="16.0" font-style="italic" textLength="53.5" lengthAdjust="spacingAndGlyphs" fill="#000">EPHX1</text>
<text x="437.9" y="212.7" font-size="16.0" font-style="italic" textLength="56.5" lengthAdjust="spacingAndGlyphs" fill="#000">PCDHA</text>
<text x="506.0" y="379.4" font-size="16.0" font-style="italic" textLength="51.7" lengthAdjust="spacingAndGlyphs" fill="#000">CD163</text>
<text x="499.6" y="442.5" font-size="16.0" font-style="italic" textLength="47.9" lengthAdjust="spacingAndGlyphs" fill="#000">ITGB1</text>
<text x="527.4" y="469.8" font-size="16.0" font-style="italic" textLength="44.0" lengthAdjust="spacingAndGlyphs" fill="#000">RPN1</text>
<text x="589.4" y="472.9" font-size="16.0" font-style="italic" textLength="43.9" lengthAdjust="spacingAndGlyphs" fill="#000">AGR2</text>
<text x="512.8" y="501.0" font-size="16.0" font-style="italic" textLength="50.7" lengthAdjust="spacingAndGlyphs" fill="#000">RPL30</text>
<g clip-path="url(#clipB)">
<polygon points="330,1112 341.2,1112 343.6,1120 346.6,1150 351,1180 354.5,1200 357.5,1214 357.5,1214 359,1200 362.1,1180 369.6,1150 373.5,1120 374.1,1112 385,1112 385,1211 402,1211 399.4,1240 396,1260 391,1280 389,1291 323,1291 320,1280 313.5,1260 309,1240 306,1211 330,1211" fill="#d3d3d3"/>
<path d="M331.7 1080.5h0M331.6 1085.3h0M330.5 1087.7h0M330.1 1089.2h0M331.4 1092h0M333 1094.1h0M331.4 1096.3h0M330.7 1100.7h0M335 1103.2h0M330.6 1103h0M335.8 1105.2h0M332.4 1108.7h0M330.3 1108.1h0M333.1 1108.2h0M336.2 1109.9h0M331.2 1109.6h0M331.1 1109.4h0M336.3 1109.9h0M333 1110.2h0M332.1 1111.4h0M334.6 1113.1h0M335.6 1113.2h0M383.8 1073.1h0M383.8 1095.4h0M380 1098h0M378.5 1100.8h0M384.2 1101.8h0M383 1103.4h0M383.2 1105.4h0M381.5 1105.1h0M381.4 1105.8h0M384 1106.1h0M384 1106.4h0M380.3 1108.9h0M381 1110.5h0M376.5 1112.1h0M380.4 1113h0M379.9 1114.2h0M382.5 1114.5h0M339.1 1112h0M376.1 1114h0M341.2 1115h0M375.9 1116h0M370.8 1120h0M370.7 1122h0M373.2 1124h0M353.2 1127h0M342.5 1128h0M374.7 1128h0M370.8 1133h0M373.7 1136h0M373.3 1138h0M344.1 1139h0M346.5 1141h0M366.9 1141h0M349.7 1145h0M368.4 1146h0M348.5 1149h0M346.9 1151h0M371.6 1151h0M371 1152h0M369.3 1153h0M370.1 1154h0M347.4 1155h0M347.5 1156h0M348.1 1158h0M369.1 1159h0M368 1163h0M366.8 1164h0M366.9 1166h0M348.7 1168h0M366.8 1169h0M361.2 1171h0M347.9 1174h0M352 1175h0M348.8 1176h0M360 1176h0M360 1180h0M349.1 1181h0M351.1 1182h0M357 1184h0M361.9 1185h0M360.5 1188h0M352.6 1191h0M351.8 1193h0M360.3 1193h0M351.6 1195h0M351.6 1196h0M359.7 1197h0M355.6 1198h0M357.9 1199h0M360.8 1199h0M358.7 1202h0M359.2 1203h0M360.1 1207h0M357.1 1209h0M359.2 1209h0M355 1210h0M356.1 1210h0M356.4 1211h0M357.2 1213h0M307.8 1211.1h0M306.7 1211.4h0M400.6 1211.7h0M403.9 1212.6h0M408.8 1213h0M306.3 1213.7h0M307.1 1214.2h0M303.1 1215.4h0M307.5 1215.6h0M416.1 1215.1h0M403 1215.1h0M407.3 1215.5h0M307.4 1217.1h0M304.7 1218.9h0M305.5 1218.3h0M434.6 1218.4h0M307.2 1219.9h0M406.2 1221.3h0M304.4 1222.2h0M401 1222.9h0M307.7 1223.8h0M411 1223.6h0M309.2 1225.4h0M296 1225.2h0M400 1225.1h0M406.5 1225.7h0M303 1227.8h0M407.1 1227.7h0M309.4 1229.1h0M304.3 1231.8h0M407.3 1235.2h0M401.4 1236.6h0M292.1 1237.6h0M416.5 1237.3h0M416.4 1238.7h0M409.2 1238.5h0M308.2 1239.6h0M399.9 1240.7h0M398.1 1242.4h0M301.1 1244.2h0M400.6 1244.5h0M307.9 1245.3h0M311.1 1247.1h0M408.2 1247.7h0M311.4 1248.9h0M304.6 1249.4h0M305.1 1251.5h0M303.4 1251h0M395.4 1252.6h0M399.3 1252.1h0M312.2 1253.3h0M402.7 1253.9h0M398.6 1255.4h0M396.9 1255.7h0M414.1 1256h0M396.4 1255.9h0M396.6 1257h0M400.8 1256.7h0M411.8 1258.9h0M401 1258.9h0M314.9 1263.3h0M406.8 1263.7h0M396.5 1263.3h0M398.5 1264.1h0M393.2 1266.1h0M393.3 1267.7h0M312.6 1268.3h0M304.5 1268.1h0M396.3 1268h0M393.6 1269.2h0M393.9 1270.9h0M313.4 1271.9h0M316.1 1272.5h0M313.2 1272.2h0M314.1 1272.7h0M404.6 1272.8h0M286.3 1273.3h0M400.6 1276.2h0M307.8 1277.6h0M395.7 1277.4h0M321.2 1278.8h0M316 1278.9h0M389.5 1278.1h0M318 1279.2h0M392 1279.6h0M394.7 1279.4h0M390.1 1281.6h0M316.2 1283h0M390.2 1283.4h0M322.5 1285.2h0M394.9 1285.9h0M391.6 1285.8h0M331.6 1012.4h0M332.7 1042.6h0M331.8 1012.3h0M335.5 1056.5h0M334.5 1062.7h0M334.3 1072.5h0M333.3 1078h0M336 1090h0M340.5 1098.5h0M381.9 1019.8h0M383.2 1019.5h0M381.3 1049.4h0M378.9 1056.8h0M382.2 1060.3h0M381.6 1049.5h0M378.6 1056.4h0M382.3 1060h0M376.8 1061.5h0M381.1 1065.1h0M379.4 1073.2h0M377.2 1076.1h0M381.1 1077.6h0M378.6 1089.2h0M380.8 1092.2h0M429 1210.7h0M418.8 1214.3h0M407.6 1214.3h0M432.1 1216.4h0M430.1 1218.8h0M446 1222.3h0M414.7 1221.9h0M413.7 1227h0M419.9 1230.1h0M423.9 1231.1h0M417.8 1234.8h0M448.1 1239.3h0M440.9 1242.3h0M422.9 1243.8h0M433.8 1250.5h0M416.8 1256h0M411.7 1260.7h0M416.8 1264.8h0M404.5 1261.7h0M400.4 1276.1h0M420.9 1287.3h0M291.9 1211.8h0M266.8 1224.2h0M289.9 1222.2h0M295.4 1220.5h0M291.3 1232.2h0M289.3 1238.3h0M296.4 1242h0M297.4 1235.9h0M302.6 1237.9h0M298.1 1271.2h0M313.8 1284.5h0M267.2 1224.2h0" stroke="#d3d3d3" stroke-width="4.70" stroke-linecap="round" fill="none"/>
<g fill="#8aa4ff" stroke="#1f50ff" stroke-width="1.3"><circle cx="319.5" cy="1083.9" r="1.85"/><circle cx="306" cy="1202.7" r="1.85"/><circle cx="302.4" cy="1152.2" r="1.85"/><circle cx="307.2" cy="1117.9" r="1.85"/><circle cx="314.5" cy="1136.5" r="1.85"/><circle cx="254.8" cy="1182.3" r="1.85"/><circle cx="307.8" cy="1204.9" r="1.85"/><circle cx="329.8" cy="1186.5" r="1.85"/><circle cx="64.9" cy="879.5" r="1.85"/><circle cx="295.7" cy="1134.5" r="1.85"/><circle cx="323.3" cy="1127.5" r="1.85"/><circle cx="276" cy="1101.8" r="1.85"/><circle cx="311.6" cy="1157.3" r="1.85"/><circle cx="320" cy="1200.4" r="1.85"/><circle cx="297" cy="1076.4" r="1.85"/><circle cx="291.6" cy="1180.5" r="1.85"/><circle cx="300.8" cy="1086.5" r="1.85"/><circle cx="271.4" cy="1096.5" r="1.85"/><circle cx="315.3" cy="1192.5" r="1.85"/><circle cx="274.8" cy="1194.7" r="1.85"/><circle cx="311.9" cy="1102.9" r="1.85"/><circle cx="325.2" cy="1179.1" r="1.85"/><circle cx="316" cy="1124.8" r="1.85"/><circle cx="324.9" cy="1196.1" r="1.85"/><circle cx="313.3" cy="1140.1" r="1.85"/><circle cx="317.2" cy="1149.1" r="1.85"/><circle cx="315.8" cy="1173.3" r="1.85"/><circle cx="310.3" cy="1145.9" r="1.85"/><circle cx="321" cy="1128.7" r="1.85"/><circle cx="304.3" cy="1114.9" r="1.85"/><circle cx="302.6" cy="1177.4" r="1.85"/><circle cx="323.3" cy="1161" r="1.85"/><circle cx="287" cy="1075.4" r="1.85"/><circle cx="324.1" cy="1143.9" r="1.85"/><circle cx="307.6" cy="1177.9" r="1.85"/><circle cx="324.8" cy="1084" r="1.85"/><circle cx="309.1" cy="1132.5" r="1.85"/><circle cx="330" cy="984.2" r="1.85"/><circle cx="320.3" cy="1174.6" r="1.85"/><circle cx="329.8" cy="1189.2" r="1.85"/><circle cx="275.1" cy="1093.9" r="1.85"/><circle cx="329.7" cy="1162.2" r="1.85"/><circle cx="304.3" cy="1042.6" r="1.85"/><circle cx="290.7" cy="1076.4" r="1.85"/><circle cx="319.2" cy="1111.4" r="1.85"/><circle cx="311.7" cy="1161.9" r="1.85"/><circle cx="307.2" cy="1187.5" r="1.85"/><circle cx="324.1" cy="1175.3" r="1.85"/><circle cx="306.5" cy="1155.9" r="1.85"/><circle cx="299.9" cy="1100.3" r="1.85"/><circle cx="323.7" cy="1110.4" r="1.85"/><circle cx="304.1" cy="1157.1" r="1.85"/><circle cx="290.6" cy="1166.7" r="1.85"/><circle cx="311.7" cy="1080" r="1.85"/><circle cx="320.1" cy="1133.8" r="1.85"/><circle cx="312.9" cy="1176.8" r="1.85"/><circle cx="303" cy="1195" r="1.85"/><circle cx="179.6" cy="1033" r="1.85"/><circle cx="325" cy="1130.4" r="1.85"/><circle cx="290.1" cy="1183.6" r="1.85"/><circle cx="329.9" cy="1148.7" r="1.85"/><circle cx="329.8" cy="1191.9" r="1.85"/><circle cx="308.6" cy="1197" r="1.85"/><circle cx="310.1" cy="1118.3" r="1.85"/><circle cx="314" cy="1188.5" r="1.85"/><circle cx="329.7" cy="1092" r="1.85"/><circle cx="310.1" cy="1135.1" r="1.85"/><circle cx="325" cy="1091.3" r="1.85"/><circle cx="283" cy="1106.2" r="1.85"/><circle cx="311.2" cy="1097" r="1.85"/><circle cx="276" cy="1120.5" r="1.85"/><circle cx="296.2" cy="1185.1" r="1.85"/><circle cx="328" cy="1087.7" r="1.85"/><circle cx="283.1" cy="1106.2" r="1.85"/><circle cx="264.4" cy="1073.4" r="1.85"/><circle cx="319.1" cy="1075.1" r="1.85"/><circle cx="290.1" cy="1116.1" r="1.85"/><circle cx="297" cy="1072.9" r="1.85"/><circle cx="304" cy="1126.1" r="1.85"/><circle cx="325.3" cy="1024" r="1.85"/><circle cx="329.6" cy="1173" r="1.85"/><circle cx="289.4" cy="1101.6" r="1.85"/><circle cx="306.8" cy="1140.9" r="1.85"/><circle cx="322.2" cy="1189.6" r="1.85"/><circle cx="301.4" cy="1191.3" r="1.85"/><circle cx="321.6" cy="1163.8" r="1.85"/><circle cx="315.8" cy="1131.6" r="1.85"/><circle cx="304.6" cy="1185.6" r="1.85"/><circle cx="308.7" cy="1093.7" r="1.85"/><circle cx="319.8" cy="1099.2" r="1.85"/><circle cx="315.6" cy="1061" r="1.85"/><circle cx="307.9" cy="1160.2" r="1.85"/><circle cx="275" cy="1195.4" r="1.85"/><circle cx="321" cy="1180" r="1.85"/><circle cx="300.7" cy="965.5" r="1.85"/><circle cx="309.5" cy="1193.2" r="1.85"/><circle cx="297.4" cy="1202.1" r="1.85"/><circle cx="299.1" cy="1051.5" r="1.85"/><circle cx="327.8" cy="1072.2" r="1.85"/><circle cx="329.6" cy="1116.3" r="1.85"/><circle cx="311.6" cy="1202.6" r="1.85"/><circle cx="291.1" cy="1204" r="1.85"/><circle cx="329.9" cy="1200" r="1.85"/><circle cx="302.1" cy="1204.6" r="1.85"/><circle cx="319.9" cy="1148.6" r="1.85"/><circle cx="301.5" cy="1160.2" r="1.85"/><circle cx="329.8" cy="1167.6" r="1.85"/><circle cx="297.7" cy="1166.5" r="1.85"/><circle cx="315.3" cy="1151.5" r="1.85"/><circle cx="305.2" cy="1121.9" r="1.85"/><circle cx="318.7" cy="1096.3" r="1.85"/><circle cx="293.4" cy="1191.4" r="1.85"/><circle cx="189.2" cy="1000.9" r="1.85"/><circle cx="277.8" cy="1188.7" r="1.85"/><circle cx="312.9" cy="1125.5" r="1.85"/><circle cx="327.2" cy="1139.5" r="1.85"/><circle cx="321.2" cy="1126" r="1.85"/><circle cx="315" cy="1155.1" r="1.85"/><circle cx="326.6" cy="1022.9" r="1.85"/><circle cx="325.6" cy="1204.3" r="1.85"/><circle cx="325.1" cy="1145.9" r="1.85"/><circle cx="318.6" cy="1169.4" r="1.85"/><circle cx="322.3" cy="1105.3" r="1.85"/><circle cx="315.2" cy="1104" r="1.85"/><circle cx="310.8" cy="1167.1" r="1.85"/><circle cx="330" cy="1108.2" r="1.85"/><circle cx="319.2" cy="1144" r="1.85"/><circle cx="307.8" cy="1200.7" r="1.85"/><circle cx="309.4" cy="1126.5" r="1.85"/><circle cx="305.6" cy="1134" r="1.85"/><circle cx="276" cy="1208.9" r="1.85"/><circle cx="330.3" cy="1089.8" r="1.85"/><circle cx="309.3" cy="1048.9" r="1.85"/><circle cx="316.3" cy="1200.3" r="1.85"/><circle cx="282.9" cy="1178" r="1.85"/><circle cx="284.2" cy="1110.6" r="1.85"/><circle cx="290.1" cy="1202" r="1.85"/><circle cx="329.9" cy="1205.4" r="1.85"/><circle cx="305.9" cy="1149.8" r="1.85"/><circle cx="329.9" cy="1183.8" r="1.85"/><circle cx="254.9" cy="1182.6" r="1.85"/><circle cx="329.7" cy="1094.7" r="1.85"/><circle cx="318.2" cy="1113.5" r="1.85"/><circle cx="265.3" cy="1117.1" r="1.85"/><circle cx="314.9" cy="1109.6" r="1.85"/><circle cx="314.3" cy="1158.3" r="1.85"/><circle cx="294.5" cy="1206.7" r="1.85"/><circle cx="329.8" cy="1097.4" r="1.85"/><circle cx="307.5" cy="1166.3" r="1.85"/><circle cx="275.7" cy="1102" r="1.85"/><circle cx="292.6" cy="1170.3" r="1.85"/><circle cx="311.1" cy="1106" r="1.85"/><circle cx="330" cy="1127.1" r="1.85"/><circle cx="326.3" cy="1102.8" r="1.85"/><circle cx="309.3" cy="1175.5" r="1.85"/><circle cx="315" cy="1095.2" r="1.85"/><circle cx="289.7" cy="1071.8" r="1.85"/><circle cx="326.1" cy="1187.7" r="1.85"/><circle cx="318.1" cy="1194" r="1.85"/><circle cx="322.5" cy="1138.7" r="1.85"/><circle cx="329.7" cy="1181.1" r="1.85"/><circle cx="316.3" cy="1146.1" r="1.85"/><circle cx="329.5" cy="1100.1" r="1.85"/><circle cx="329.8" cy="1156.8" r="1.85"/><circle cx="325.7" cy="1099.8" r="1.85"/><circle cx="310.5" cy="1208.5" r="1.85"/><circle cx="329.7" cy="1135.2" r="1.85"/><circle cx="323.1" cy="1206.6" r="1.85"/><circle cx="214.9" cy="1070.9" r="1.85"/><circle cx="305.5" cy="1147.5" r="1.85"/><circle cx="283" cy="1106" r="1.85"/><circle cx="324.8" cy="1190.9" r="1.85"/><circle cx="318.8" cy="1103.2" r="1.85"/><circle cx="319.7" cy="1207.9" r="1.85"/><circle cx="305.8" cy="1199.5" r="1.85"/><circle cx="271.6" cy="1096.6" r="1.85"/><circle cx="330.1" cy="1154.1" r="1.85"/><circle cx="327.7" cy="1080.6" r="1.85"/><circle cx="298.8" cy="1198.4" r="1.85"/><circle cx="308" cy="971.8" r="1.85"/><circle cx="300.7" cy="996.7" r="1.85"/><circle cx="292.1" cy="1114.6" r="1.85"/><circle cx="276.1" cy="1120.4" r="1.85"/><circle cx="318.8" cy="1139.2" r="1.85"/><circle cx="312.1" cy="1196.9" r="1.85"/><circle cx="323.3" cy="1181.8" r="1.85"/><circle cx="320.8" cy="1119.7" r="1.85"/><circle cx="322.4" cy="1077.4" r="1.85"/><circle cx="327.7" cy="1179.2" r="1.85"/><circle cx="316.6" cy="1137.7" r="1.85"/><circle cx="324.9" cy="1158.6" r="1.85"/><circle cx="267.8" cy="1202" r="1.85"/><circle cx="289" cy="1150.4" r="1.85"/><circle cx="314.2" cy="1208.4" r="1.85"/><circle cx="285.2" cy="1189.6" r="1.85"/><circle cx="325" cy="1062" r="1.85"/><circle cx="297.6" cy="1148.8" r="1.85"/><circle cx="320.7" cy="1195.4" r="1.85"/><circle cx="312.2" cy="1171.2" r="1.85"/><circle cx="310.5" cy="1138.8" r="1.85"/><circle cx="265.3" cy="1188.7" r="1.85"/><circle cx="292.6" cy="1125.3" r="1.85"/><circle cx="322.7" cy="1186" r="1.85"/><circle cx="326.5" cy="1121.4" r="1.85"/><circle cx="316.2" cy="1182.6" r="1.85"/><circle cx="329.9" cy="1202.7" r="1.85"/><circle cx="316.7" cy="1158.4" r="1.85"/><circle cx="314.2" cy="1169.2" r="1.85"/><circle cx="327.3" cy="1136.4" r="1.85"/><circle cx="300.7" cy="1197.1" r="1.85"/><circle cx="306" cy="1209.7" r="1.85"/><circle cx="324.5" cy="1134.3" r="1.85"/><circle cx="289.1" cy="1030.9" r="1.85"/><circle cx="323" cy="1117.7" r="1.85"/><circle cx="329.7" cy="1170.3" r="1.85"/><circle cx="283" cy="1177.9" r="1.85"/><circle cx="318.1" cy="1173.5" r="1.85"/><circle cx="313.4" cy="1131.8" r="1.85"/><circle cx="321.4" cy="1115.8" r="1.85"/><circle cx="325.2" cy="1123.7" r="1.85"/><circle cx="311.8" cy="1193.1" r="1.85"/><circle cx="323.2" cy="1148.5" r="1.85"/><circle cx="325.4" cy="1038" r="1.85"/><circle cx="308.7" cy="1061" r="1.85"/><circle cx="308" cy="1077.4" r="1.85"/><circle cx="327.3" cy="998.4" r="1.85"/><circle cx="275.7" cy="1209.2" r="1.85"/><circle cx="325.2" cy="1201.6" r="1.85"/><circle cx="276" cy="1208.9" r="1.85"/><circle cx="304.4" cy="1119.5" r="1.85"/><circle cx="323.3" cy="1101.1" r="1.85"/><circle cx="322.3" cy="1135" r="1.85"/><circle cx="285.8" cy="1189.5" r="1.85"/><circle cx="329.9" cy="1129.8" r="1.85"/><circle cx="303.8" cy="1202.4" r="1.85"/><circle cx="329.9" cy="1105.5" r="1.85"/><circle cx="302.7" cy="1168.1" r="1.85"/><circle cx="313.2" cy="1181.7" r="1.85"/><circle cx="312.5" cy="1151.7" r="1.85"/><circle cx="293.6" cy="1150.4" r="1.85"/><circle cx="303.3" cy="1163" r="1.85"/><circle cx="314.9" cy="1027.5" r="1.85"/><circle cx="298.7" cy="1084.3" r="1.85"/><circle cx="316.8" cy="1202.7" r="1.85"/><circle cx="330.1" cy="1121.7" r="1.85"/><circle cx="296" cy="1121.2" r="1.85"/><circle cx="268.1" cy="1202" r="1.85"/><circle cx="298" cy="1207.8" r="1.85"/><circle cx="275.2" cy="1093.8" r="1.85"/><circle cx="325.7" cy="1081.8" r="1.85"/><circle cx="318.3" cy="1160.9" r="1.85"/><circle cx="325.5" cy="1038.3" r="1.85"/><circle cx="300.5" cy="965.1" r="1.85"/><circle cx="290.7" cy="1115.8" r="1.85"/><circle cx="318.5" cy="1167.1" r="1.85"/><circle cx="322.1" cy="1199.3" r="1.85"/><circle cx="315.1" cy="1117.8" r="1.85"/><circle cx="293.6" cy="1204" r="1.85"/><circle cx="304.6" cy="1176.1" r="1.85"/><circle cx="303.6" cy="1165.9" r="1.85"/><circle cx="319.1" cy="1050.2" r="1.85"/><circle cx="311.5" cy="1133" r="1.85"/><circle cx="321" cy="1184.4" r="1.85"/><circle cx="327.7" cy="1074.3" r="1.85"/><circle cx="281.4" cy="1011.5" r="1.85"/><circle cx="324.5" cy="1198.8" r="1.85"/><circle cx="302" cy="1174.3" r="1.85"/><circle cx="317.5" cy="1180" r="1.85"/><circle cx="309.9" cy="1186.7" r="1.85"/><circle cx="329.6" cy="1113.6" r="1.85"/><circle cx="309.6" cy="1115.1" r="1.85"/><circle cx="323.5" cy="1097.2" r="1.85"/><circle cx="318.4" cy="1190.7" r="1.85"/><circle cx="327.3" cy="1172.8" r="1.85"/><circle cx="324.8" cy="1172.9" r="1.85"/><circle cx="323.5" cy="1167.7" r="1.85"/><circle cx="320.6" cy="1141.8" r="1.85"/><circle cx="287.2" cy="1075.9" r="1.85"/><circle cx="305.1" cy="1091.1" r="1.85"/><circle cx="314.2" cy="1122" r="1.85"/><circle cx="326" cy="1114.8" r="1.85"/><circle cx="318.8" cy="1130.2" r="1.85"/><circle cx="305.3" cy="988.8" r="1.85"/><circle cx="309.6" cy="1171.4" r="1.85"/><circle cx="260.9" cy="1112.3" r="1.85"/><circle cx="277.6" cy="1188.7" r="1.85"/><circle cx="272" cy="1096.6" r="1.85"/><circle cx="311.7" cy="1173.7" r="1.85"/><circle cx="307.4" cy="1131.1" r="1.85"/><circle cx="296.2" cy="1097.3" r="1.85"/><circle cx="311" cy="1124.2" r="1.85"/><circle cx="327.7" cy="1071.8" r="1.85"/><circle cx="329.5" cy="1143.3" r="1.85"/><circle cx="295.6" cy="1066.6" r="1.85"/><circle cx="312.6" cy="1093.7" r="1.85"/><circle cx="329.9" cy="1137.9" r="1.85"/><circle cx="289.5" cy="1101.8" r="1.85"/><circle cx="325.2" cy="1169.6" r="1.85"/><circle cx="315.8" cy="1115.1" r="1.85"/><circle cx="299.5" cy="1201.5" r="1.85"/><circle cx="304.3" cy="1066.6" r="1.85"/><circle cx="326.4" cy="1165.9" r="1.85"/><circle cx="315.9" cy="1093.1" r="1.85"/><circle cx="324.9" cy="1140.3" r="1.85"/><circle cx="329.7" cy="1119" r="1.85"/><circle cx="291.1" cy="1153.9" r="1.85"/><circle cx="322" cy="1158.6" r="1.85"/><circle cx="270.6" cy="1171.2" r="1.85"/><circle cx="275.9" cy="1120.2" r="1.85"/><circle cx="325.8" cy="1155.4" r="1.85"/><circle cx="311.3" cy="1120.3" r="1.85"/><circle cx="322.1" cy="1093.3" r="1.85"/><circle cx="314.8" cy="1179.5" r="1.85"/><circle cx="315" cy="1128.6" r="1.85"/><circle cx="283.8" cy="1110.8" r="1.85"/><circle cx="318.6" cy="1154.8" r="1.85"/><circle cx="312.6" cy="1112.6" r="1.85"/><circle cx="316.5" cy="1189.1" r="1.85"/><circle cx="304.4" cy="1042.6" r="1.85"/><circle cx="327.3" cy="1107.5" r="1.85"/><circle cx="322" cy="1150.7" r="1.85"/><circle cx="299.1" cy="1083.9" r="1.85"/><circle cx="329.5" cy="1164.9" r="1.85"/><circle cx="322.4" cy="1132.1" r="1.85"/><circle cx="314.5" cy="1167" r="1.85"/><circle cx="325.6" cy="1163.4" r="1.85"/><circle cx="308.8" cy="1207" r="1.85"/><circle cx="316.6" cy="1176.6" r="1.85"/><circle cx="261" cy="1112.4" r="1.85"/><circle cx="317.9" cy="1122.9" r="1.85"/><circle cx="317.7" cy="1087.3" r="1.85"/><circle cx="319.5" cy="1197.4" r="1.85"/><circle cx="309.4" cy="1183.2" r="1.85"/><circle cx="302.2" cy="1184.3" r="1.85"/><circle cx="298.1" cy="1178.1" r="1.85"/><circle cx="275.1" cy="1075.2" r="1.85"/><circle cx="265.3" cy="1116.7" r="1.85"/><circle cx="324.3" cy="1150.5" r="1.85"/><circle cx="322.2" cy="1113.6" r="1.85"/><circle cx="306" cy="1196.9" r="1.85"/><circle cx="330" cy="1146" r="1.85"/><circle cx="316.1" cy="1162.5" r="1.85"/><circle cx="329.6" cy="1208.1" r="1.85"/><circle cx="323" cy="1124.1" r="1.85"/><circle cx="306.9" cy="1037.4" r="1.85"/><circle cx="318.5" cy="1066.6" r="1.85"/><circle cx="314.4" cy="1107.3" r="1.85"/><circle cx="317.5" cy="1141.5" r="1.85"/><circle cx="289.2" cy="1030.3" r="1.85"/><circle cx="321.1" cy="1085.6" r="1.85"/><circle cx="275" cy="1194.8" r="1.85"/><circle cx="326.6" cy="1160.1" r="1.85"/><circle cx="318.2" cy="1125.7" r="1.85"/><circle cx="323.1" cy="1064.9" r="1.85"/><circle cx="326.9" cy="1143" r="1.85"/><circle cx="303.8" cy="1209.3" r="1.85"/><circle cx="319.7" cy="1205.4" r="1.85"/><circle cx="303.4" cy="1096.6" r="1.85"/><circle cx="308.8" cy="1155.4" r="1.85"/><circle cx="264.4" cy="1073.5" r="1.85"/><circle cx="326.2" cy="1023.4" r="1.85"/><circle cx="329.8" cy="1159.5" r="1.85"/><circle cx="309.3" cy="1190.6" r="1.85"/><circle cx="301.6" cy="1188.1" r="1.85"/><circle cx="306.6" cy="1192.3" r="1.85"/><circle cx="290" cy="1072" r="1.85"/><circle cx="312.7" cy="1149.2" r="1.85"/><circle cx="265.3" cy="1117" r="1.85"/><circle cx="325.2" cy="1209.2" r="1.85"/><circle cx="329" cy="1084.2" r="1.85"/><circle cx="310.8" cy="1178.5" r="1.85"/><circle cx="308.6" cy="1164.3" r="1.85"/><circle cx="295.9" cy="1097.4" r="1.85"/><circle cx="322.4" cy="1203.4" r="1.85"/><circle cx="319.5" cy="1164.9" r="1.85"/><circle cx="326.7" cy="1181.8" r="1.85"/><circle cx="329.9" cy="1102.8" r="1.85"/><circle cx="304.6" cy="1178.9" r="1.85"/><circle cx="299" cy="1020.4" r="1.85"/><circle cx="327.7" cy="1184.7" r="1.85"/><circle cx="267.8" cy="1202.2" r="1.85"/><circle cx="315.2" cy="1196.6" r="1.85"/><circle cx="329.8" cy="1178.4" r="1.85"/><circle cx="329.9" cy="1151.4" r="1.85"/><circle cx="318.3" cy="1186.4" r="1.85"/><circle cx="298.2" cy="1051.4" r="1.85"/><circle cx="305.9" cy="1153.3" r="1.85"/><circle cx="303.4" cy="1070.8" r="1.85"/><circle cx="315.5" cy="1089.5" r="1.85"/><circle cx="319.8" cy="1048.5" r="1.85"/><circle cx="317.6" cy="1208.6" r="1.85"/><circle cx="302.3" cy="1171" r="1.85"/><circle cx="308.5" cy="1098.6" r="1.85"/><circle cx="327.2" cy="1193.5" r="1.85"/><circle cx="327.6" cy="1200.8" r="1.85"/><circle cx="312.3" cy="1110.1" r="1.85"/><circle cx="283.7" cy="1111" r="1.85"/><circle cx="308.7" cy="1121.8" r="1.85"/><circle cx="290.1" cy="1164.2" r="1.85"/><circle cx="307.8" cy="971.6" r="1.85"/><circle cx="330" cy="1194.6" r="1.85"/><circle cx="295.3" cy="1139.7" r="1.85"/><circle cx="327.5" cy="1126.6" r="1.85"/><circle cx="317.1" cy="1105.9" r="1.85"/><circle cx="309.5" cy="1112.4" r="1.85"/><circle cx="306" cy="1074.1" r="1.85"/><circle cx="311.6" cy="1128.6" r="1.85"/><circle cx="297" cy="1114.4" r="1.85"/><circle cx="323.2" cy="1192.9" r="1.85"/><circle cx="329.8" cy="1140.6" r="1.85"/><circle cx="275.1" cy="1077.3" r="1.85"/><circle cx="308.6" cy="1149.2" r="1.85"/><circle cx="295.2" cy="1165.2" r="1.85"/><circle cx="318.5" cy="1079.9" r="1.85"/><circle cx="319.2" cy="1150.9" r="1.85"/><circle cx="324.5" cy="1088.9" r="1.85"/><circle cx="326.8" cy="1109.7" r="1.85"/><circle cx="284.3" cy="1110.5" r="1.85"/><circle cx="312.4" cy="1090.7" r="1.85"/><circle cx="316.5" cy="1081.9" r="1.85"/><circle cx="305.3" cy="1169.8" r="1.85"/><circle cx="312.7" cy="1118.4" r="1.85"/><circle cx="270.7" cy="1171.1" r="1.85"/><circle cx="312.6" cy="1143.6" r="1.85"/><circle cx="324.8" cy="1062" r="1.85"/><circle cx="311.9" cy="1114.8" r="1.85"/><circle cx="329.9" cy="1124.4" r="1.85"/><circle cx="249.3" cy="941.5" r="1.85"/><circle cx="291.1" cy="1150.9" r="1.85"/><circle cx="326.2" cy="1094.6" r="1.85"/><circle cx="313.8" cy="1204.9" r="1.85"/><circle cx="327.7" cy="1198.5" r="1.85"/><circle cx="329.7" cy="1110.9" r="1.85"/><circle cx="307.9" cy="1181.5" r="1.85"/><circle cx="308.9" cy="1151.5" r="1.85"/><circle cx="329.6" cy="1175.7" r="1.85"/><circle cx="320.4" cy="1171.2" r="1.85"/><circle cx="311.1" cy="1200.3" r="1.85"/><circle cx="313.5" cy="1185.2" r="1.85"/><circle cx="306.8" cy="1124.1" r="1.85"/><circle cx="330.1" cy="1132.5" r="1.85"/><circle cx="313.4" cy="1099.6" r="1.85"/><circle cx="309.4" cy="1158" r="1.85"/><circle cx="295.2" cy="1066.4" r="1.85"/><circle cx="319.9" cy="1107.8" r="1.85"/><circle cx="322.5" cy="1048" r="1.85"/><circle cx="315.7" cy="1143.7" r="1.85"/><circle cx="307.4" cy="1145.3" r="1.85"/><circle cx="295.7" cy="1171.3" r="1.85"/><circle cx="326.9" cy="1150.2" r="1.85"/><circle cx="324.3" cy="1078.9" r="1.85"/><circle cx="327.4" cy="1131.5" r="1.85"/><circle cx="319.5" cy="1177.1" r="1.85"/><circle cx="304.9" cy="1160.7" r="1.85"/><circle cx="323.5" cy="1107.3" r="1.85"/><circle cx="316.4" cy="1205.9" r="1.85"/><circle cx="306.5" cy="1172.8" r="1.85"/><circle cx="303.9" cy="1191.5" r="1.85"/><circle cx="275.9" cy="1101.6" r="1.85"/><circle cx="275.2" cy="1093.7" r="1.85"/><circle cx="329.7" cy="1197.3" r="1.85"/><circle cx="314.5" cy="1164.4" r="1.85"/><circle cx="300.8" cy="1150.3" r="1.85"/><circle cx="260.9" cy="1112.6" r="1.85"/><circle cx="304.1" cy="1206.1" r="1.85"/><circle cx="302.3" cy="1199.6" r="1.85"/><circle cx="302.9" cy="1144.8" r="1.85"/><circle cx="322.2" cy="1156.1" r="1.85"/><circle cx="321.5" cy="1146" r="1.85"/><circle cx="294" cy="1185.4" r="1.85"/><circle cx="325" cy="1119.5" r="1.85"/><circle cx="301.4" cy="1209.4" r="1.85"/><circle cx="305.6" cy="1167.5" r="1.85"/></g>
<g fill="#ff8e8e" stroke="#ff1a1a" stroke-width="1.3"><circle cx="395.1" cy="1151.6" r="1.85"/><circle cx="387.4" cy="1093.2" r="1.85"/><circle cx="477.1" cy="1201" r="1.85"/><circle cx="425.7" cy="1195" r="1.85"/><circle cx="431.1" cy="1191.2" r="1.85"/><circle cx="405.4" cy="1156.4" r="1.85"/><circle cx="394" cy="1084.3" r="1.85"/><circle cx="391" cy="1178.5" r="1.85"/><circle cx="390.9" cy="1129.7" r="1.85"/><circle cx="390.2" cy="1150.7" r="1.85"/><circle cx="394.3" cy="1071.7" r="1.85"/><circle cx="420.9" cy="1192" r="1.85"/><circle cx="420.9" cy="1110.9" r="1.85"/><circle cx="392.1" cy="1136.9" r="1.85"/><circle cx="430.9" cy="1191.4" r="1.85"/><circle cx="432.9" cy="1167.4" r="1.85"/><circle cx="422.5" cy="1176" r="1.85"/><circle cx="385.9" cy="1071.1" r="1.85"/><circle cx="384.5" cy="1108.1" r="1.85"/><circle cx="397.1" cy="1122.5" r="1.85"/><circle cx="421.1" cy="1069.1" r="1.85"/><circle cx="384.8" cy="1121.6" r="1.85"/><circle cx="443.3" cy="898.2" r="1.85"/><circle cx="408.4" cy="1190.9" r="1.85"/><circle cx="398.1" cy="1163" r="1.85"/><circle cx="387.2" cy="1154.6" r="1.85"/><circle cx="414.1" cy="1208" r="1.85"/><circle cx="391.6" cy="1168.1" r="1.85"/><circle cx="433.6" cy="970.9" r="1.85"/><circle cx="438.9" cy="1117.5" r="1.85"/><circle cx="404.7" cy="1171.3" r="1.85"/><circle cx="397" cy="1183.8" r="1.85"/><circle cx="404.3" cy="1159" r="1.85"/><circle cx="384.6" cy="1178.3" r="1.85"/><circle cx="394.5" cy="1155.1" r="1.85"/><circle cx="393.7" cy="1209.5" r="1.85"/><circle cx="391.1" cy="1114.3" r="1.85"/><circle cx="393.1" cy="1098" r="1.85"/><circle cx="393.1" cy="1076" r="1.85"/><circle cx="438.8" cy="1118" r="1.85"/><circle cx="522.3" cy="747.5" r="1.85"/><circle cx="396.7" cy="1142.6" r="1.85"/><circle cx="401.9" cy="1128.9" r="1.85"/><circle cx="384.4" cy="1137.8" r="1.85"/><circle cx="392.8" cy="1147" r="1.85"/><circle cx="397.9" cy="1119.3" r="1.85"/><circle cx="390.7" cy="1070.8" r="1.85"/><circle cx="397.1" cy="1172.7" r="1.85"/><circle cx="395.8" cy="1169.7" r="1.85"/><circle cx="421.3" cy="1201" r="1.85"/><circle cx="396.5" cy="1098.5" r="1.85"/><circle cx="398.9" cy="1009.8" r="1.85"/><circle cx="384.3" cy="1167.5" r="1.85"/><circle cx="388.3" cy="1195.2" r="1.85"/><circle cx="410.6" cy="1168.4" r="1.85"/><circle cx="384.7" cy="1189.1" r="1.85"/><circle cx="384.6" cy="1113.5" r="1.85"/><circle cx="389.2" cy="1110.3" r="1.85"/><circle cx="404.3" cy="1131.5" r="1.85"/><circle cx="397.3" cy="1197.6" r="1.85"/><circle cx="392.9" cy="1118.3" r="1.85"/><circle cx="391" cy="1000.1" r="1.85"/><circle cx="392.2" cy="1185.5" r="1.85"/><circle cx="438" cy="887.5" r="1.85"/><circle cx="444.4" cy="953.9" r="1.85"/><circle cx="414" cy="1170.2" r="1.85"/><circle cx="384.4" cy="1170.2" r="1.85"/><circle cx="395.5" cy="1126.1" r="1.85"/><circle cx="387.8" cy="1169.4" r="1.85"/><circle cx="386.6" cy="973.3" r="1.85"/><circle cx="384.6" cy="1159.4" r="1.85"/><circle cx="384.7" cy="1132.4" r="1.85"/><circle cx="439.6" cy="1131.1" r="1.85"/><circle cx="391.3" cy="1134.5" r="1.85"/><circle cx="384.9" cy="1140.5" r="1.85"/><circle cx="384.9" cy="1186.4" r="1.85"/><circle cx="389.2" cy="1163.5" r="1.85"/><circle cx="391.9" cy="1103.8" r="1.85"/><circle cx="421.1" cy="1110.1" r="1.85"/><circle cx="391.6" cy="1174.7" r="1.85"/><circle cx="387.9" cy="1141.2" r="1.85"/><circle cx="384.5" cy="1175.6" r="1.85"/><circle cx="399.4" cy="1187.7" r="1.85"/><circle cx="384.7" cy="1181" r="1.85"/><circle cx="400.1" cy="1117.6" r="1.85"/><circle cx="420.2" cy="1192" r="1.85"/><circle cx="385.6" cy="1071" r="1.85"/><circle cx="392.8" cy="1161.6" r="1.85"/><circle cx="407.1" cy="1199.2" r="1.85"/><circle cx="384.5" cy="1154" r="1.85"/><circle cx="404.9" cy="1144.8" r="1.85"/><circle cx="384.8" cy="1208" r="1.85"/><circle cx="384.6" cy="1100" r="1.85"/><circle cx="420.5" cy="1192.7" r="1.85"/><circle cx="400.6" cy="1095.6" r="1.85"/><circle cx="431.1" cy="1191.4" r="1.85"/><circle cx="384.6" cy="1143.2" r="1.85"/><circle cx="452.4" cy="1132.4" r="1.85"/><circle cx="395.3" cy="1174.7" r="1.85"/><circle cx="384.6" cy="1127" r="1.85"/><circle cx="396" cy="1200.6" r="1.85"/><circle cx="403.9" cy="1125.8" r="1.85"/><circle cx="398.4" cy="1167" r="1.85"/><circle cx="384.8" cy="1156.7" r="1.85"/><circle cx="388.4" cy="1138.9" r="1.85"/><circle cx="412.3" cy="964.6" r="1.85"/><circle cx="390.9" cy="1141.8" r="1.85"/><circle cx="398.5" cy="1170.6" r="1.85"/><circle cx="393.5" cy="1204.3" r="1.85"/><circle cx="417.8" cy="1032.7" r="1.85"/><circle cx="394.8" cy="1207.3" r="1.85"/><circle cx="432.7" cy="1199.9" r="1.85"/><circle cx="384.5" cy="1205.3" r="1.85"/><circle cx="393.1" cy="1139.7" r="1.85"/><circle cx="384.6" cy="1194.5" r="1.85"/><circle cx="401.9" cy="1057.4" r="1.85"/><circle cx="403.8" cy="1165.3" r="1.85"/><circle cx="390" cy="1148.2" r="1.85"/><circle cx="392.1" cy="1196.1" r="1.85"/><circle cx="387.3" cy="1165.8" r="1.85"/><circle cx="442.4" cy="1192" r="1.85"/><circle cx="398.2" cy="1185.8" r="1.85"/><circle cx="389.6" cy="1156.2" r="1.85"/><circle cx="509.8" cy="844.8" r="1.85"/><circle cx="428.4" cy="1138" r="1.85"/><circle cx="384.6" cy="1129.7" r="1.85"/><circle cx="389.8" cy="1095.2" r="1.85"/><circle cx="388.8" cy="1125.6" r="1.85"/><circle cx="384.7" cy="1145.9" r="1.85"/><circle cx="389.1" cy="1173.8" r="1.85"/><circle cx="428.1" cy="1138.3" r="1.85"/><circle cx="398.8" cy="1151.1" r="1.85"/><circle cx="401.6" cy="1158.8" r="1.85"/><circle cx="402.2" cy="1168" r="1.85"/><circle cx="384.4" cy="1164.8" r="1.85"/><circle cx="445.4" cy="1187.2" r="1.85"/><circle cx="392.1" cy="1199.2" r="1.85"/><circle cx="404.9" cy="1161.6" r="1.85"/><circle cx="388.4" cy="1158.2" r="1.85"/><circle cx="400.5" cy="1148.8" r="1.85"/><circle cx="432.6" cy="1167.4" r="1.85"/><circle cx="420.5" cy="1051.5" r="1.85"/><circle cx="392.8" cy="1172.8" r="1.85"/><circle cx="401.8" cy="1011.4" r="1.85"/><circle cx="411.7" cy="1199.4" r="1.85"/><circle cx="396.6" cy="1090.1" r="1.85"/><circle cx="408" cy="1118" r="1.85"/><circle cx="442.3" cy="1192.3" r="1.85"/><circle cx="484" cy="969.9" r="1.85"/><circle cx="401.2" cy="1143.5" r="1.85"/><circle cx="411.7" cy="1152.3" r="1.85"/><circle cx="388.5" cy="1208.9" r="1.85"/><circle cx="384.9" cy="1110.8" r="1.85"/><circle cx="384.7" cy="1197.2" r="1.85"/><circle cx="392.9" cy="1182.3" r="1.85"/><circle cx="389" cy="1202.8" r="1.85"/><circle cx="443.5" cy="898.1" r="1.85"/><circle cx="513.4" cy="859.2" r="1.85"/><circle cx="391.6" cy="1157.4" r="1.85"/><circle cx="401.8" cy="1089.8" r="1.85"/><circle cx="391.3" cy="1132.1" r="1.85"/><circle cx="409.1" cy="1140.9" r="1.85"/><circle cx="400.5" cy="1196.6" r="1.85"/><circle cx="384.8" cy="1191.8" r="1.85"/><circle cx="388.9" cy="1102.1" r="1.85"/><circle cx="391.2" cy="1123.4" r="1.85"/><circle cx="391.2" cy="1204.8" r="1.85"/><circle cx="388" cy="1135.6" r="1.85"/><circle cx="388.8" cy="1179.2" r="1.85"/><circle cx="384.8" cy="1162.1" r="1.85"/><circle cx="409.7" cy="1087.8" r="1.85"/><circle cx="384.4" cy="1172.9" r="1.85"/><circle cx="411.7" cy="1189.6" r="1.85"/><circle cx="392.7" cy="1121.5" r="1.85"/><circle cx="384.6" cy="1151.3" r="1.85"/><circle cx="384.9" cy="1135.1" r="1.85"/><circle cx="394.7" cy="1194.3" r="1.85"/><circle cx="384.4" cy="1116.2" r="1.85"/><circle cx="445.4" cy="1186.7" r="1.85"/><circle cx="415.8" cy="1199.4" r="1.85"/><circle cx="426" cy="1194.9" r="1.85"/><circle cx="384.8" cy="1199.9" r="1.85"/><circle cx="393.6" cy="1191.3" r="1.85"/><circle cx="469" cy="878.4" r="1.85"/><circle cx="397.5" cy="1095" r="1.85"/><circle cx="425.6" cy="1194.9" r="1.85"/><circle cx="387.4" cy="1147.1" r="1.85"/><circle cx="399.6" cy="1192.6" r="1.85"/><circle cx="404.7" cy="1189.7" r="1.85"/><circle cx="399" cy="1194.8" r="1.85"/><circle cx="405.4" cy="1184.6" r="1.85"/><circle cx="411.7" cy="1179.8" r="1.85"/><circle cx="401.7" cy="1172.7" r="1.85"/><circle cx="387.9" cy="1189.1" r="1.85"/><circle cx="399.9" cy="1110.8" r="1.85"/><circle cx="391.1" cy="1050.5" r="1.85"/><circle cx="409.7" cy="1163.9" r="1.85"/><circle cx="384.6" cy="1148.6" r="1.85"/><circle cx="474.3" cy="864.5" r="1.85"/><circle cx="393.5" cy="1178.1" r="1.85"/><circle cx="390.4" cy="1182.2" r="1.85"/><circle cx="384.8" cy="1183.7" r="1.85"/><circle cx="389.1" cy="1098.3" r="1.85"/><circle cx="390.5" cy="1207.5" r="1.85"/><circle cx="384.5" cy="1118.9" r="1.85"/><circle cx="402" cy="1120" r="1.85"/><circle cx="384.6" cy="1102.7" r="1.85"/><circle cx="397.5" cy="1102.9" r="1.85"/><circle cx="398.4" cy="1092.1" r="1.85"/><circle cx="390.2" cy="1192.1" r="1.85"/><circle cx="389.4" cy="1152.7" r="1.85"/><circle cx="411.4" cy="1189.4" r="1.85"/><circle cx="401.9" cy="1122.3" r="1.85"/><circle cx="388.1" cy="1200.5" r="1.85"/><circle cx="437.3" cy="926.5" r="1.85"/><circle cx="404.4" cy="982.2" r="1.85"/><circle cx="393.1" cy="1080.4" r="1.85"/><circle cx="386.9" cy="1174.4" r="1.85"/><circle cx="442.5" cy="1192" r="1.85"/><circle cx="432.7" cy="1200" r="1.85"/><circle cx="390.3" cy="1050.3" r="1.85"/><circle cx="391.3" cy="1202.4" r="1.85"/><circle cx="399.9" cy="1175.6" r="1.85"/><circle cx="396.5" cy="1132.5" r="1.85"/><circle cx="393.5" cy="1164.3" r="1.85"/><circle cx="384.6" cy="1105.4" r="1.85"/><circle cx="394.1" cy="1094.8" r="1.85"/><circle cx="387.2" cy="1183.7" r="1.85"/><circle cx="395.6" cy="1061" r="1.85"/><circle cx="384.6" cy="1124.3" r="1.85"/><circle cx="410.1" cy="1199" r="1.85"/><circle cx="398.5" cy="1139.4" r="1.85"/><circle cx="395.7" cy="1179.6" r="1.85"/><circle cx="387.3" cy="1133.2" r="1.85"/><circle cx="397.6" cy="1202.1" r="1.85"/><circle cx="394.7" cy="1130.5" r="1.85"/><circle cx="404.5" cy="1090.5" r="1.85"/><circle cx="416" cy="1199.5" r="1.85"/><circle cx="386.9" cy="1129.1" r="1.85"/><circle cx="414.3" cy="1208.2" r="1.85"/><circle cx="387.6" cy="1095.8" r="1.85"/><circle cx="388.9" cy="1118.5" r="1.85"/><circle cx="393.5" cy="1091.3" r="1.85"/><circle cx="440.9" cy="1134.6" r="1.85"/><circle cx="391.1" cy="1144.2" r="1.85"/><circle cx="384.7" cy="1202.6" r="1.85"/><circle cx="386.8" cy="1101.1" r="1.85"/><circle cx="391.8" cy="1188.1" r="1.85"/><circle cx="455.9" cy="1142.4" r="1.85"/><circle cx="405.4" cy="1136.6" r="1.85"/><circle cx="411.7" cy="1180.4" r="1.85"/><circle cx="421.9" cy="1201" r="1.85"/></g>
</g>
<ellipse cx="267.6" cy="749.5" rx="3.8" ry="4.4" fill="#fff" stroke="#111" stroke-width="1.2"/><circle cx="267.4" cy="748.8" r="1.85" fill="#8aa4ff" stroke="#1f50ff" stroke-width="1.3"/><ellipse cx="313.4" cy="968.5" rx="3.8" ry="4.4" fill="#fff" stroke="#111" stroke-width="1.2"/><circle cx="313.2" cy="967.8" r="1.85" fill="#8aa4ff" stroke="#1f50ff" stroke-width="1.3"/><ellipse cx="240.5" cy="1115.2" rx="3.8" ry="4.4" fill="#fff" stroke="#111" stroke-width="1.2"/><circle cx="240.3" cy="1114.5" r="1.85" fill="#8aa4ff" stroke="#1f50ff" stroke-width="1.3"/><ellipse cx="261.8" cy="1140.1" rx="3.8" ry="4.4" fill="#fff" stroke="#111" stroke-width="1.2"/><circle cx="261.6" cy="1139.4" r="1.85" fill="#8aa4ff" stroke="#1f50ff" stroke-width="1.3"/><ellipse cx="248.6" cy="1166.7" rx="3.8" ry="4.4" fill="#fff" stroke="#111" stroke-width="1.2"/><circle cx="248.4" cy="1166.0" r="1.85" fill="#8aa4ff" stroke="#1f50ff" stroke-width="1.3"/><ellipse cx="235.3" cy="1176.7" rx="3.8" ry="4.4" fill="#fff" stroke="#111" stroke-width="1.2"/><circle cx="235.1" cy="1176.0" r="1.85" fill="#8aa4ff" stroke="#1f50ff" stroke-width="1.3"/><ellipse cx="252.0" cy="1189.5" rx="3.8" ry="4.4" fill="#fff" stroke="#111" stroke-width="1.2"/><circle cx="251.8" cy="1188.8" r="1.85" fill="#8aa4ff" stroke="#1f50ff" stroke-width="1.3"/>
<ellipse cx="446.2" cy="1037.4" rx="3.8" ry="4.4" fill="#fff" stroke="#111" stroke-width="1.2"/><circle cx="446.0" cy="1036.7" r="1.85" fill="#ff8e8e" stroke="#ff1a1a" stroke-width="1.3"/><ellipse cx="439.8" cy="1129.3" rx="3.8" ry="4.4" fill="none" stroke="#111" stroke-width="1.2"/><ellipse cx="441.5" cy="1137.2" rx="3.8" ry="4.4" fill="none" stroke="#111" stroke-width="1.2"/><ellipse cx="458.0" cy="1185.8" rx="3.8" ry="4.4" fill="#fff" stroke="#111" stroke-width="1.2"/><circle cx="457.8" cy="1185.1" r="1.85" fill="#ff8e8e" stroke="#ff1a1a" stroke-width="1.3"/><ellipse cx="481.6" cy="1187.6" rx="3.8" ry="4.4" fill="#fff" stroke="#111" stroke-width="1.2"/><circle cx="481.4" cy="1186.9" r="1.85" fill="#ff8e8e" stroke="#ff1a1a" stroke-width="1.3"/>
<text x="216.7" y="740.0" font-size="16.0" font-style="italic" textLength="55.8" lengthAdjust="spacingAndGlyphs" fill="#000">GREB1</text>
<text x="283.8" y="958.0" font-size="16.0" font-style="italic" textLength="35.2" lengthAdjust="spacingAndGlyphs" fill="#000">PGR</text>
<text x="200.9" y="1108.4" font-size="16.0" font-style="italic" textLength="44.6" lengthAdjust="spacingAndGlyphs" fill="#000">RGS1</text>
<text x="187.6" y="1132.1" font-size="16.0" font-style="italic" textLength="77.6" lengthAdjust="spacingAndGlyphs" fill="#000">SNORD69</text>
<text x="185.5" y="1147.9" font-size="16.0" font-style="italic" textLength="67.5" lengthAdjust="spacingAndGlyphs" fill="#000">MIR1206</text>
<text x="173.2" y="1167.4" font-size="16.0" font-style="italic" textLength="65.5" lengthAdjust="spacingAndGlyphs" fill="#000">SCUBE2</text>
<text x="201.6" y="1206.7" font-size="16.0" font-style="italic" textLength="53.0" lengthAdjust="spacingAndGlyphs" fill="#000">SFRP2</text>
<text x="440.4" y="1032.4" font-size="16.0" font-style="italic" textLength="68.0" lengthAdjust="spacingAndGlyphs" fill="#000">MIR4521</text>
<text x="458.9" y="1130.1" font-size="16.0" font-style="italic" textLength="33.2" lengthAdjust="spacingAndGlyphs" fill="#000">ND2</text>
<text x="461.0" y="1145.9" font-size="16.0" font-style="italic" textLength="32.5" lengthAdjust="spacingAndGlyphs" fill="#000">ND5</text>
<text x="449.3" y="1166.4" font-size="16.0" font-style="italic" textLength="42.8" lengthAdjust="spacingAndGlyphs" fill="#000">ND4L</text>
<text x="476.8" y="1181.8" font-size="16.0" font-style="italic" textLength="44.4" lengthAdjust="spacingAndGlyphs" fill="#000">ASPH</text>
<text x="1.9" y="15.9" font-size="31" font-weight="bold" textLength="24.3" lengthAdjust="spacingAndGlyphs" fill="#000" font-family='"Liberation Serif", serif'>a.</text>
<text x="36.9" y="16.2" font-size="15.8" font-weight="bold" textLength="643.7" lengthAdjust="spacingAndGlyphs" fill="#000">Enriched transcripts in the comparison of primary tumors of PERBC and PESBC</text>
<rect x="45.8" y="30.1" width="622.4" height="574.0" fill="none" stroke="#808080" stroke-width="1.3" stroke-linejoin="round"/>
<text x="42.9" y="34.6" font-size="11" text-anchor="end" textLength="13.5" lengthAdjust="spacingAndGlyphs" fill="#333" stroke="#333" stroke-width="0.3">7.5</text>
<text x="42.9" y="92.0" font-size="11" text-anchor="end" textLength="18.8" lengthAdjust="spacingAndGlyphs" fill="#333" stroke="#333" stroke-width="0.3">6.75</text>
<text x="42.9" y="149.4" font-size="11" text-anchor="end" textLength="5.4" lengthAdjust="spacingAndGlyphs" fill="#333" stroke="#333" stroke-width="0.3">6</text>
<text x="42.9" y="206.8" font-size="11" text-anchor="end" textLength="18.8" lengthAdjust="spacingAndGlyphs" fill="#333" stroke="#333" stroke-width="0.3">5.25</text>
<text x="42.9" y="264.2" font-size="11" text-anchor="end" textLength="13.5" lengthAdjust="spacingAndGlyphs" fill="#333" stroke="#333" stroke-width="0.3">4.5</text>
<text x="42.9" y="321.6" font-size="11" text-anchor="end" textLength="18.8" lengthAdjust="spacingAndGlyphs" fill="#333" stroke="#333" stroke-width="0.3">3.75</text>
<text x="42.9" y="379.0" font-size="11" text-anchor="end" textLength="5.4" lengthAdjust="spacingAndGlyphs" fill="#333" stroke="#333" stroke-width="0.3">3</text>
<text x="42.9" y="436.4" font-size="11" text-anchor="end" textLength="18.8" lengthAdjust="spacingAndGlyphs" fill="#333" stroke="#333" stroke-width="0.3">2.25</text>
<text x="42.9" y="493.8" font-size="11" text-anchor="end" textLength="13.5" lengthAdjust="spacingAndGlyphs" fill="#333" stroke="#333" stroke-width="0.3">1.5</text>
<text x="42.9" y="551.2" font-size="11" text-anchor="end" textLength="18.8" lengthAdjust="spacingAndGlyphs" fill="#333" stroke="#333" stroke-width="0.3">0.75</text>
<text x="42.9" y="608.6" font-size="11" text-anchor="end" textLength="5.4" lengthAdjust="spacingAndGlyphs" fill="#333" stroke="#333" stroke-width="0.3">0</text>
<text x="45.8" y="619.1" font-size="11" text-anchor="middle" textLength="8.6" lengthAdjust="spacingAndGlyphs" fill="#333" stroke="#333" stroke-width="0.3">-4</text>
<text x="108.0" y="619.1" font-size="11" text-anchor="middle" textLength="22.1" lengthAdjust="spacingAndGlyphs" fill="#333" stroke="#333" stroke-width="0.3">-3.03</text>
<text x="170.3" y="619.1" font-size="11" text-anchor="middle" textLength="16.7" lengthAdjust="spacingAndGlyphs" fill="#333" stroke="#333" stroke-width="0.3">-2.3</text>
<text x="232.5" y="619.1" font-size="11" text-anchor="middle" textLength="22.1" lengthAdjust="spacingAndGlyphs" fill="#333" stroke="#333" stroke-width="0.3">-1.74</text>
<text x="294.8" y="619.1" font-size="11" text-anchor="middle" textLength="22.1" lengthAdjust="spacingAndGlyphs" fill="#333" stroke="#333" stroke-width="0.3">-1.32</text>
<text x="357.0" y="619.1" font-size="11" text-anchor="middle" textLength="5.4" lengthAdjust="spacingAndGlyphs" fill="#333" stroke="#333" stroke-width="0.3">1</text>
<text x="419.2" y="619.1" font-size="11" text-anchor="middle" textLength="18.8" lengthAdjust="spacingAndGlyphs" fill="#333" stroke="#333" stroke-width="0.3">1.32</text>
<text x="481.5" y="619.1" font-size="11" text-anchor="middle" textLength="18.8" lengthAdjust="spacingAndGlyphs" fill="#333" stroke="#333" stroke-width="0.3">1.74</text>
<text x="543.7" y="619.1" font-size="11" text-anchor="middle" textLength="13.5" lengthAdjust="spacingAndGlyphs" fill="#333" stroke="#333" stroke-width="0.3">2.3</text>
<text x="606.0" y="619.1" font-size="11" text-anchor="middle" textLength="18.8" lengthAdjust="spacingAndGlyphs" fill="#333" stroke="#333" stroke-width="0.3">3.03</text>
<text x="668.2" y="619.1" font-size="11" text-anchor="middle" textLength="5.4" lengthAdjust="spacingAndGlyphs" fill="#333" stroke="#333" stroke-width="0.3">4</text>
<text x="312.5" y="632.7" font-size="15.3" textLength="93.2" lengthAdjust="spacingAndGlyphs" fill="#000">Fold change</text>
<text transform="translate(16.0,382.5) rotate(-90)" font-size="16.3" textLength="117.8" lengthAdjust="spacingAndGlyphs" fill="#000">p-value (-log10)</text>
<text x="2.6" y="701.0" font-size="31" font-weight="bold" textLength="25.9" lengthAdjust="spacingAndGlyphs" fill="#000" font-family='"Liberation Serif", serif'>b.</text>
<text x="36.6" y="701.8" font-size="15.8" font-weight="bold" textLength="645.9" lengthAdjust="spacingAndGlyphs" fill="#000">Enriched transcripts in the comparison of relapse and primary tumors of PERBC</text>
<rect x="45.8" y="715.2" width="622.4" height="573.5" fill="none" stroke="#808080" stroke-width="1.3" stroke-linejoin="round"/>
<text x="42.9" y="719.7" font-size="11" text-anchor="end" textLength="13.5" lengthAdjust="spacingAndGlyphs" fill="#333" stroke="#333" stroke-width="0.3">9.5</text>
<text x="42.9" y="777.1" font-size="11" text-anchor="end" textLength="18.8" lengthAdjust="spacingAndGlyphs" fill="#333" stroke="#333" stroke-width="0.3">8.55</text>
<text x="42.9" y="834.4" font-size="11" text-anchor="end" textLength="13.5" lengthAdjust="spacingAndGlyphs" fill="#333" stroke="#333" stroke-width="0.3">7.6</text>
<text x="42.9" y="891.8" font-size="11" text-anchor="end" textLength="18.8" lengthAdjust="spacingAndGlyphs" fill="#333" stroke="#333" stroke-width="0.3">6.65</text>
<text x="42.9" y="949.1" font-size="11" text-anchor="end" textLength="13.5" lengthAdjust="spacingAndGlyphs" fill="#333" stroke="#333" stroke-width="0.3">5.7</text>
<text x="42.9" y="1006.5" font-size="11" text-anchor="end" textLength="18.8" lengthAdjust="spacingAndGlyphs" fill="#333" stroke="#333" stroke-width="0.3">4.75</text>
<text x="42.9" y="1063.8" font-size="11" text-anchor="end" textLength="13.5" lengthAdjust="spacingAndGlyphs" fill="#333" stroke="#333" stroke-width="0.3">3.8</text>
<text x="42.9" y="1121.2" font-size="11" text-anchor="end" textLength="18.8" lengthAdjust="spacingAndGlyphs" fill="#333" stroke="#333" stroke-width="0.3">2.85</text>
<text x="42.9" y="1178.5" font-size="11" text-anchor="end" textLength="13.5" lengthAdjust="spacingAndGlyphs" fill="#333" stroke="#333" stroke-width="0.3">1.9</text>
<text x="42.9" y="1235.8" font-size="11" text-anchor="end" textLength="18.8" lengthAdjust="spacingAndGlyphs" fill="#333" stroke="#333" stroke-width="0.3">0.95</text>
<text x="42.9" y="1293.2" font-size="11" text-anchor="end" textLength="5.4" lengthAdjust="spacingAndGlyphs" fill="#333" stroke="#333" stroke-width="0.3">0</text>
<text x="45.8" y="1303.7" font-size="11" text-anchor="middle" textLength="8.6" lengthAdjust="spacingAndGlyphs" fill="#333" stroke="#333" stroke-width="0.3">-8</text>
<text x="108.0" y="1303.7" font-size="11" text-anchor="middle" textLength="22.1" lengthAdjust="spacingAndGlyphs" fill="#333" stroke="#333" stroke-width="0.3">-5.28</text>
<text x="170.3" y="1303.7" font-size="11" text-anchor="middle" textLength="22.1" lengthAdjust="spacingAndGlyphs" fill="#333" stroke="#333" stroke-width="0.3">-3.48</text>
<text x="232.5" y="1303.7" font-size="11" text-anchor="middle" textLength="16.7" lengthAdjust="spacingAndGlyphs" fill="#333" stroke="#333" stroke-width="0.3">-2.3</text>
<text x="294.8" y="1303.7" font-size="11" text-anchor="middle" textLength="22.1" lengthAdjust="spacingAndGlyphs" fill="#333" stroke="#333" stroke-width="0.3">-1.52</text>
<text x="357.0" y="1303.7" font-size="11" text-anchor="middle" textLength="5.4" lengthAdjust="spacingAndGlyphs" fill="#333" stroke="#333" stroke-width="0.3">1</text>
<text x="419.2" y="1303.7" font-size="11" text-anchor="middle" textLength="18.8" lengthAdjust="spacingAndGlyphs" fill="#333" stroke="#333" stroke-width="0.3">1.52</text>
<text x="481.5" y="1303.7" font-size="11" text-anchor="middle" textLength="13.5" lengthAdjust="spacingAndGlyphs" fill="#333" stroke="#333" stroke-width="0.3">2.3</text>
<text x="543.7" y="1303.7" font-size="11" text-anchor="middle" textLength="18.8" lengthAdjust="spacingAndGlyphs" fill="#333" stroke="#333" stroke-width="0.3">3.48</text>
<text x="606.0" y="1303.7" font-size="11" text-anchor="middle" textLength="18.8" lengthAdjust="spacingAndGlyphs" fill="#333" stroke="#333" stroke-width="0.3">5.28</text>
<text x="668.2" y="1303.7" font-size="11" text-anchor="middle" textLength="5.4" lengthAdjust="spacingAndGlyphs" fill="#333" stroke="#333" stroke-width="0.3">8</text>
<text x="312.5" y="1328.9" font-size="15.3" textLength="93.2" lengthAdjust="spacingAndGlyphs" fill="#000">Fold change</text>
<text transform="translate(16.0,1070.8) rotate(-90)" font-size="16.3" textLength="118.9" lengthAdjust="spacingAndGlyphs" fill="#000">p-value (-log10)</text>
</svg>
</body></html>
